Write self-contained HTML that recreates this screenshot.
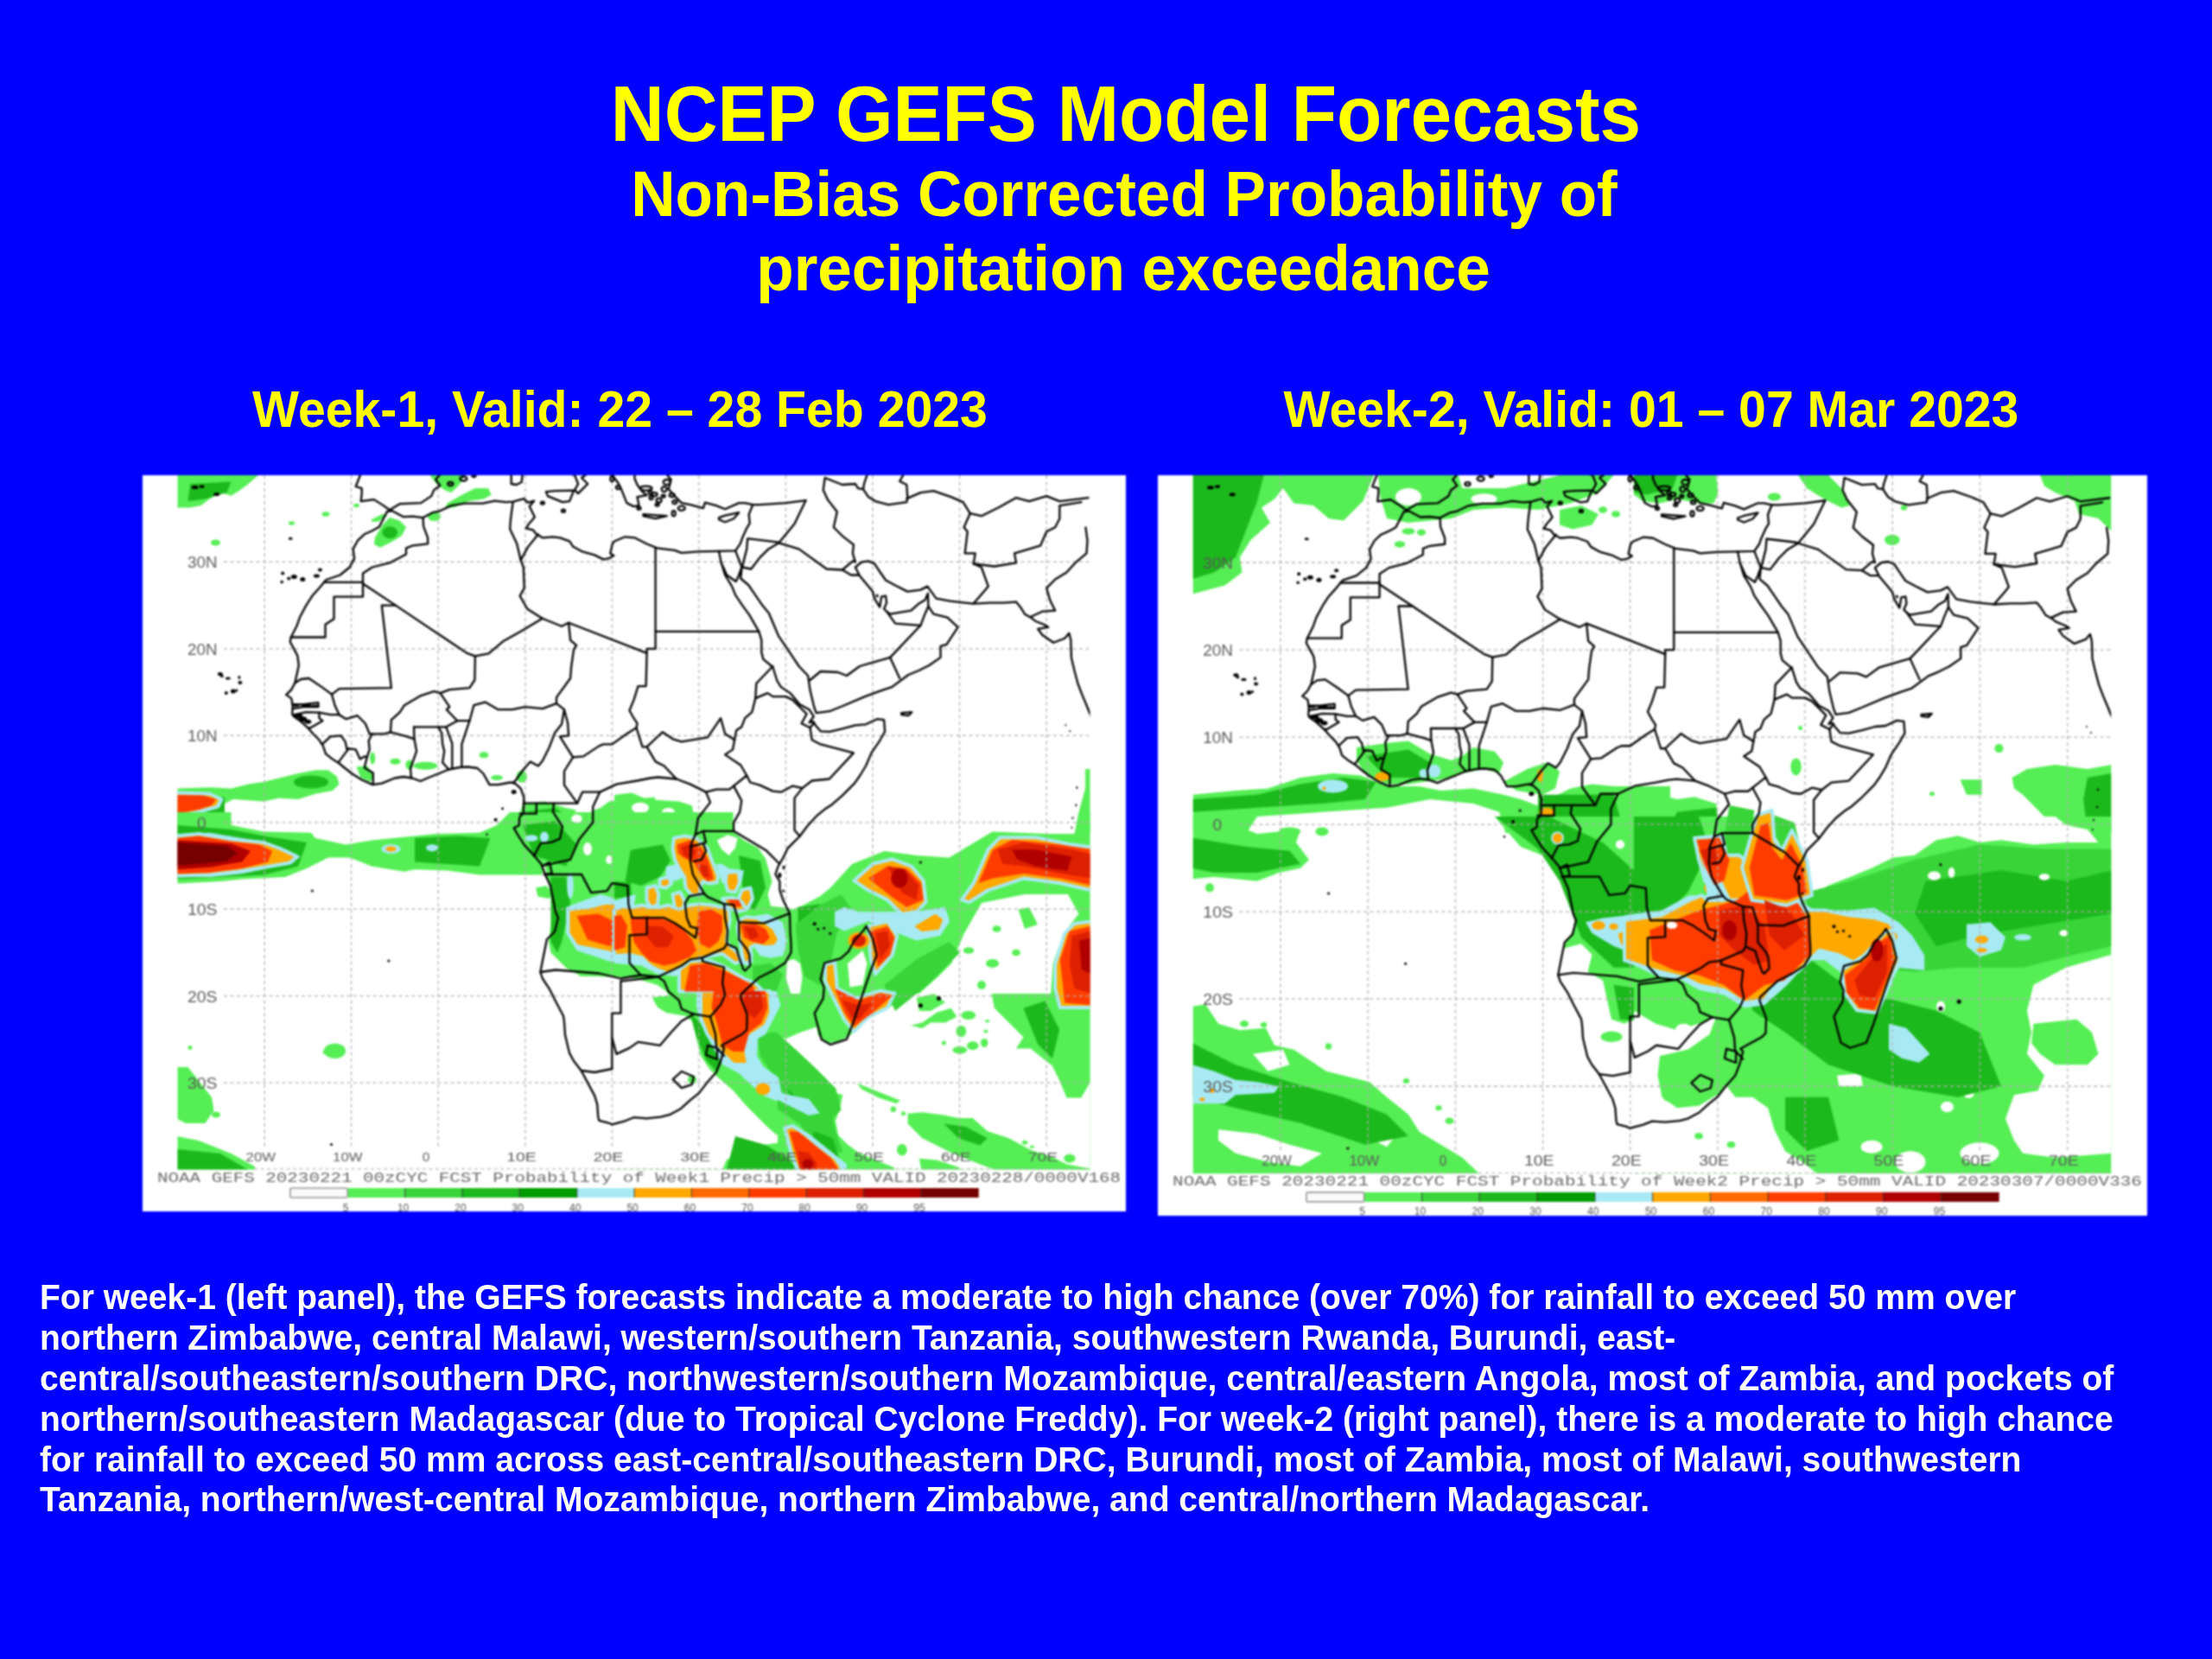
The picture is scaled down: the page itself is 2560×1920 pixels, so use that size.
<!DOCTYPE html>
<html><head><meta charset="utf-8">
<style>
html,body{margin:0;padding:0;}
body{width:2560px;height:1920px;background:#0000ff;position:relative;overflow:hidden;font-family:"Liberation Sans",sans-serif;font-weight:bold;}
.t{position:absolute;white-space:nowrap;line-height:1;transform-origin:0 0;}
.y{color:#ffff00;}
.w{color:#ffffff;}
</style></head><body>
<svg width="0" height="0" style="position:absolute">
<defs>
<clipPath id="plotclip"><rect x="40.5" y="0" width="1056.0" height="803.5"/></clipPath>
<g id="grid" stroke="#b0b0b0" stroke-width="1.3" stroke-dasharray="4 3.5" fill="none"><line x1="141.1" y1="0.0" x2="141.1" y2="779.0"/>
<line x1="241.6" y1="0.0" x2="241.6" y2="779.0"/>
<line x1="342.2" y1="0.0" x2="342.2" y2="779.0"/>
<line x1="442.8" y1="0.0" x2="442.8" y2="779.0"/>
<line x1="543.3" y1="0.0" x2="543.3" y2="779.0"/>
<line x1="643.9" y1="0.0" x2="643.9" y2="779.0"/>
<line x1="744.5" y1="0.0" x2="744.5" y2="779.0"/>
<line x1="845.0" y1="0.0" x2="845.0" y2="779.0"/>
<line x1="945.6" y1="0.0" x2="945.6" y2="779.0"/>
<line x1="1046.2" y1="0.0" x2="1046.2" y2="779.0"/>
<line x1="94.0" y1="703.1" x2="1096.5" y2="703.1"/>
<line x1="94.0" y1="602.6" x2="1096.5" y2="602.6"/>
<line x1="94.0" y1="502.2" x2="1096.5" y2="502.2"/>
<line x1="94.0" y1="401.8" x2="1096.5" y2="401.8"/>
<line x1="94.0" y1="301.3" x2="1096.5" y2="301.3"/>
<line x1="94.0" y1="200.9" x2="1096.5" y2="200.9"/>
<line x1="94.0" y1="100.4" x2="1096.5" y2="100.4"/>
<line x1="129" y1="803" x2="1096.5" y2="803"/></g>
<g id="borders" stroke="#000" stroke-width="2.3" fill="none" stroke-linejoin="round" stroke-linecap="round"><path d="M282.9 42.2 L278.8 50.2 L273.8 59.8 L265.8 64.3 L256.7 68.3 L249.2 75.3 L243.6 85.4 L245.1 96.4 L239.6 106.5 L228.6 115.5 L212.5 121.0 L205.4 129.6 L196.4 139.6 L189.3 150.6 L182.3 163.7 L178.3 174.8 L171.7 187.8 L170.7 192.8 L177.3 204.9 L179.3 208.9 L180.8 220.0 L176.3 240.5 L172.2 248.1 L166.2 254.1 L172.2 258.1 L173.7 266.2 L173.2 276.2 L175.3 279.2 L182.3 284.2 L191.3 292.3 L197.4 299.3 L204.4 306.3 L208.9 313.4 L212.0 322.4 L219.5 328.4 L227.6 333.5 L233.6 338.5 L242.6 345.5 L253.7 352.5 L266.3 358.1 L276.8 356.6 L291.9 350.5 L302.0 349.0 L312.0 350.5 L321.6 354.0 L332.1 349.5 L342.2 345.5 L354.3 340.5 L367.3 338.0 L376.4 337.5 L387.5 339.0 L394.5 345.5 L401.5 358.1 L411.6 358.1 L425.7 355.5 L431.7 357.1 L437.7 362.6 L441.3 372.6 L440.8 391.2 L436.2 395.7 L435.7 405.3 L429.7 408.3 L434.7 416.8 L441.8 427.9 L453.8 440.9 L461.4 450.0 L465.9 462.0 L471.9 475.1 L475.0 490.1 L478.0 505.2 L481.0 512.2 L477.0 528.3 L467.9 537.3 L464.4 554.4 L460.4 575.0 L462.9 582.5 L470.9 594.6 L478.0 608.7 L487.0 625.7 L488.0 632.8 L489.0 647.8 L494.1 668.9 L499.1 678.0 L507.6 689.0 L515.2 703.1 L523.2 718.1 L526.2 728.2 L527.2 742.2 L528.3 746.8 L538.3 749.3 L543.3 751.3 L558.4 747.3 L568.5 743.2 L583.6 744.3 L599.7 742.7 L609.7 740.2 L622.8 733.2 L633.9 723.2 L643.9 715.1 L654.0 702.1 L664.0 691.0 L669.1 678.0 L673.1 662.9 L670.1 659.9 L679.1 654.9 L694.2 646.8 L699.2 641.8 L699.7 624.7 L697.2 617.7 L692.2 604.6 L692.7 600.6 L702.2 591.6 L713.3 581.5 L729.4 573.5 L743.5 564.5 L750.5 552.4 L750.5 542.4 L749.5 527.3 L749.0 507.2 L741.5 492.1 L737.4 480.1 L737.4 470.0 L732.4 462.0 L735.4 453.0 L741.5 442.4 L746.5 431.9 L753.5 424.9 L760.6 417.8 L769.6 405.8 L779.7 394.7 L790.7 385.7 L797.8 381.2 L809.9 370.6 L823.9 356.6 L830.0 348.0 L837.0 336.5 L843.5 321.4 L853.1 307.3 L859.1 296.8 L858.1 283.2 L850.1 282.2 L837.0 288.3 L824.9 289.3 L809.9 293.3 L794.8 296.8 L784.7 296.3 L778.7 289.3 L776.2 285.2 L771.6 286.2 L776.7 279.2 L771.6 271.2 L760.6 265.2 L749.5 252.1 L738.9 245.1 L734.4 238.0 L729.4 222.0 L718.3 212.9 L716.3 204.9 L716.3 190.8 L713.3 180.8 L702.2 161.7 L694.2 150.6 L686.1 138.6 L682.1 128.6 L674.1 115.5 L669.6 100.9 L676.1 115.5 L686.7 123.0 L690.2 115.5 L693.7 105.5 L692.2 119.5 L701.2 127.0 L708.8 138.1 L717.3 150.6 L724.9 159.7 L735.9 185.8 L749.5 205.9 L759.6 221.0 L770.1 232.0 L772.6 249.1 L777.2 268.2 L779.7 275.2 L794.8 273.2 L809.9 267.2 L836.0 256.1 L855.1 249.1 L867.2 245.1 L886.3 231.0 L898.4 226.0 L910.4 220.0 L923.5 210.9 L923.5 197.9 L930.5 195.8 L943.6 175.8 L931.5 164.7 L915.4 160.7 L909.4 151.7 L908.9 136.6 L905.4 144.6 L898.4 148.6 L889.3 156.7 L865.2 160.7 L861.1 157.7 L858.1 154.7 L861.1 147.6 L860.1 139.6 L855.1 140.6 L853.1 152.7 L847.1 142.6 L845.0 134.6 L840.0 128.6 L830.0 116.5 L824.9 106.5 L831.0 101.4 L833.0 100.4 L840.0 99.4 L847.1 102.4 L853.1 111.5 L860.1 121.5 L871.2 127.5 L885.3 134.6 L900.4 132.6 L908.4 128.6 L918.5 142.6 L934.6 145.6 L951.7 147.6 L961.7 148.6 L980.8 147.6 L995.9 147.6 L1011.0 146.6 L1016.0 152.7 L1021.0 160.7 L1028.1 164.7 L1033.1 168.7 L1043.2 172.7 L1048.2 175.8 L1036.1 177.8 L1041.2 184.8 L1054.2 193.8 L1067.3 188.8 L1072.3 182.8 L1074.3 190.8 L1074.9 210.9 L1078.4 226.0 L1082.4 241.0 L1087.4 254.1 L1092.5 266.2 L1098.5 281.2"/>
<path d="M667.0 87.9 L669.6 100.9"/>
<path d="M667.0 87.9 L642.9 88.4 L623.8 89.9 L615.8 86.9 L595.6 84.4 L583.1 79.3 L569.5 72.3 L558.4 71.3 L546.4 76.3 L543.8 79.3 L541.3 90.4 L545.4 92.9 L539.3 96.4 L533.3 97.4 L523.2 92.4 L509.1 88.4 L498.1 82.4 L494.1 76.3 L483.0 72.3 L475.0 71.3 L462.9 72.3 L455.8 68.3 L451.8 63.3 L443.8 61.3 L447.8 55.2 L450.3 52.7 L453.8 48.2 L450.8 42.2 L447.8 36.1 L453.3 29.6 L445.8 31.6 L441.3 27.1 L428.7 30.6 L420.1 31.1 L407.6 29.6 L393.5 32.6 L372.9 32.6 L357.3 35.1 L343.2 41.7 L335.7 43.2 L324.1 49.2 L313.0 47.7 L302.0 48.2 L288.9 41.2 L282.9 42.2"/>
<path d="M667.0 87.9 L686.1 87.4 L691.7 79.3 L694.2 72.3 L699.2 61.3 L702.7 55.7 L701.7 45.2 L706.3 34.1 L697.2 32.1 L690.2 32.1 L674.1 39.2 L664.0 35.1 L650.9 31.6 L648.9 38.2 L633.9 34.1 L623.8 32.1 L616.8 25.1 L608.7 16.1 L611.7 5.0 L605.7 -2.0"/>
<path d="M252.7 -2.0 L246.7 13.0 L253.7 15.1 L253.7 21.1 L252.7 30.1 L267.8 28.1 L278.8 35.1 L285.9 40.2 L297.9 33.1 L322.1 32.1 L334.2 24.1 L337.2 17.1 L344.2 12.0 L339.2 5.0 L345.2 -2.0"/>
<path d="M426.7 -2.0 L426.7 10.0 L432.7 11.0 L438.7 8.0 L439.8 -2.0"/>
<path d="M466.9 19.1 L477.0 18.1 L499.1 17.6 L494.1 30.1 L486.0 31.1 L468.9 24.1 L466.9 19.1"/>
<path d="M493.1 -2.0 L500.1 -0.0 L504.1 10.0 L500.1 17.1 L504.1 21.1 L509.1 16.1 L515.2 10.0 L508.1 3.0 L515.2 -2.0"/>
<path d="M542.3 -2.0 L550.4 9.0 L554.4 17.1 L560.4 32.1 L568.5 36.1 L574.5 35.1 L572.5 25.1 L583.6 23.1 L578.5 19.1 L572.5 11.0 L569.5 4.0 L569.5 -2.0"/>
<path d="M579.5 45.2 L606.7 47.2 L593.6 50.2 L579.5 47.2 L579.5 45.2"/>
<path d="M667.0 51.2 L674.1 54.2 L684.1 50.2 L690.2 43.2 L674.1 46.7 L667.0 49.2 L667.0 51.2"/>
<path d="M839.0 -2.0 L835.0 10.0 L834.0 16.1 L840.0 25.1 L848.1 30.1 L863.2 34.1 L884.3 31.1 L885.3 26.1 L884.3 11.0 L876.2 7.0 L881.3 -2.0"/>
<path d="M837.5 521.8 L845.0 536.3 L849.6 555.4 L843.5 571.5 L839.0 584.0 L828.5 615.2 L823.4 630.8 L814.9 652.9 L796.3 658.9 L785.7 652.9 L781.2 636.3 L777.7 622.7 L787.7 605.6 L788.7 592.6 L784.7 583.0 L789.2 564.5 L807.8 559.4 L816.9 551.4 L823.9 538.3 L834.0 527.3 L837.5 521.8"/>
<path d="M878.2 275.2 L890.3 274.2 L886.3 278.2 L878.2 277.2 L878.2 275.2"/>
<path d="M324.6 49.2 L325.1 59.2 L330.1 72.3 L330.1 79.3 L313.0 81.3 L305.0 84.4 L305.0 91.4 L285.9 101.4 L265.8 106.5 L255.0 113.5 L255.0 123.8"/>
<path d="M209.7 123.8 L255.0 123.8 L255.0 140.6 L221.5 140.6 L221.5 166.2 L211.5 172.7 L211.5 187.5 L171.7 187.5"/>
<path d="M255.0 125.5 L292.9 150.6 L354.3 191.8 L375.4 205.9 L384.9 209.4"/>
<path d="M292.9 150.6 L276.8 150.6 L287.9 246.1 L227.6 247.1 L219.0 253.6"/>
<path d="M176.3 240.5 L183.3 236.0 L192.4 235.0 L207.4 245.1 L219.0 253.6"/>
<path d="M219.0 253.6 L222.5 266.2 L227.6 277.2"/>
<path d="M173.7 277.7 L189.3 274.2 L204.4 274.7 L217.5 277.2 L227.6 277.2"/>
<path d="M173.2 265.2 L186.3 265.2 L203.4 263.1 L203.4 268.2 L186.3 268.2 L174.2 270.2"/>
<path d="M204.4 274.7 L204.4 281.2 L208.4 284.2 L194.4 292.3 L191.3 292.3"/>
<path d="M208.4 310.9 L217.5 302.3 L229.6 301.4 L234.6 308.3 L236.6 317.4 L238.6 316.4"/>
<path d="M226.5 332.4 L238.6 316.4"/>
<path d="M238.6 316.4 L246.7 317.4 L251.7 328.4 L256.7 325.4 L259.7 326.4"/>
<path d="M259.7 326.4 L256.7 338.5 L266.8 344.5 L266.8 357.6"/>
<path d="M259.7 326.4 L262.7 317.4 L261.7 307.3 L265.8 299.3"/>
<path d="M227.6 277.2 L235.6 282.2 L248.7 278.2 L257.7 287.2 L262.7 299.3 L265.8 299.3"/>
<path d="M265.8 299.3 L279.8 299.3 L286.9 297.3"/>
<path d="M286.9 297.3 L287.9 283.2 L297.9 274.2 L303.0 266.2 L322.1 255.1 L337.2 250.1 L344.5 252.1"/>
<path d="M286.9 297.3 L306.0 302.3 L314.5 305.3"/>
<path d="M314.0 291.3 L314.5 305.3 L317.1 319.4 L310.0 339.5 L311.0 350.5"/>
<path d="M314.0 291.3 L342.2 291.3"/>
<path d="M342.2 291.3 L346.2 298.3 L347.2 311.4 L349.2 319.4 L347.2 332.4 L354.3 340.5"/>
<path d="M342.2 291.3 L351.3 291.3"/>
<path d="M351.3 291.3 L358.3 310.3 L358.3 339.5"/>
<path d="M351.3 291.3 L364.3 284.2 L378.4 284.2"/>
<path d="M378.4 284.2 L369.4 311.4 L369.4 338.0"/>
<path d="M344.5 252.1 L355.3 268.2 L351.8 271.2 L364.3 284.2"/>
<path d="M384.9 209.4 L384.4 237.0 L378.4 246.1 L355.3 248.1 L344.5 252.1"/>
<path d="M378.4 284.2 L383.4 266.2 L396.5 262.6 L411.6 271.2 L427.7 271.2 L442.8 268.2 L462.9 270.2 L479.0 264.1"/>
<path d="M384.9 209.4 L400.5 206.4 L417.1 192.3 L437.7 180.8 L462.7 165.7"/>
<path d="M462.7 165.7 L445.3 154.7 L436.7 139.6 L441.8 130.6 L440.8 106.5 L437.7 98.4 L433.2 79.3 L425.2 62.3 L425.7 54.2 L426.7 45.2 L428.7 31.1"/>
<path d="M437.7 98.4 L445.8 83.4 L457.9 68.3"/>
<path d="M462.7 165.7 L485.0 174.8 L493.1 170.7 L583.6 205.9 L583.6 200.9 L593.6 200.9 L593.6 180.8 L593.6 84.4"/>
<path d="M593.6 180.8 L713.3 180.8"/>
<path d="M493.1 170.7 L495.1 190.8 L502.1 196.9 L499.1 201.4 L496.1 222.0 L495.1 235.0 L479.0 257.1 L479.0 264.1"/>
<path d="M583.6 205.9 L582.6 244.1 L573.5 244.1 L568.5 260.1 L563.5 272.2 L568.5 281.2 L572.5 287.2 L571.5 292.3"/>
<path d="M498.1 326.4 L510.2 325.4 L528.3 313.4 L533.3 311.4 L543.3 311.4 L560.4 299.3 L571.5 292.3"/>
<path d="M479.0 264.1 L488.0 271.2 L492.0 286.2 L493.1 301.3 L483.0 302.3 L498.1 326.4"/>
<path d="M488.0 271.2 L485.0 288.3 L477.0 298.3 L470.9 314.4 L462.9 330.4 L457.9 336.5 L448.8 331.4 L440.8 340.5 L430.7 354.5 L427.7 355.5"/>
<path d="M498.1 326.4 L488.0 342.5 L488.0 358.6 L503.1 379.7"/>
<path d="M440.8 379.7 L455.8 379.7 L476.0 379.7 L503.1 379.7"/>
<path d="M455.8 379.7 L455.8 391.7 L436.7 391.7"/>
<path d="M476.0 379.7 L475.0 389.7 L486.0 406.8 L483.0 420.8 L472.9 424.9 L460.9 425.9 L452.8 440.9"/>
<path d="M503.1 379.7 L509.1 366.6 L529.3 366.6"/>
<path d="M529.3 366.6 L521.2 383.7 L521.2 401.8 L505.1 421.8 L495.1 444.9 L462.9 452.0"/>
<path d="M529.3 366.6 L548.4 357.6 L572.5 353.5 L587.6 350.5 L596.6 349.5 L617.8 351.5"/>
<path d="M617.8 351.5 L633.9 357.6 L652.0 366.6"/>
<path d="M652.0 366.6 L657.0 378.6 L642.9 396.7 L639.9 415.8 L634.9 426.9 L633.9 446.9 L636.9 462.0 L649.9 484.1"/>
<path d="M649.9 484.1 L632.8 487.1 L627.8 495.2 L629.8 512.2 L633.9 522.3 L641.9 524.3 L639.9 535.3 L627.8 526.3 L615.8 518.3 L603.7 512.2 L583.6 512.2 L583.6 531.3 L563.5 532.3"/>
<path d="M464.9 462.0 L508.1 462.0 L519.2 483.1 L537.3 481.1 L543.3 472.1 L561.4 475.1 L562.4 497.2 L566.5 512.2 L583.6 512.2"/>
<path d="M462.9 452.0 L470.9 448.0 L473.9 461.0 L464.9 462.0"/>
<path d="M563.5 532.3 L563.5 564.5 L576.5 578.5"/>
<path d="M460.4 575.0 L478.0 572.5 L528.3 576.5 L553.4 582.5 L576.5 578.5 L596.6 580.5"/>
<path d="M553.4 585.6 L596.6 580.5"/>
<path d="M553.4 585.6 L553.4 622.7 L543.3 622.7 L543.3 650.8 L543.3 687.0"/>
<path d="M507.6 689.0 L523.2 691.0 L538.3 688.0 L543.3 687.0"/>
<path d="M596.6 580.5 L613.7 572.5 L623.8 567.5 L633.9 560.4 L647.9 558.4"/>
<path d="M647.9 558.4 L673.1 547.4 L676.1 542.4 L677.1 527.3 L674.1 512.2 L673.1 496.2"/>
<path d="M673.1 496.2 L654.0 488.1 L649.9 484.1"/>
<path d="M647.9 558.4 L647.9 562.5 L673.1 569.5 L671.1 587.6 L674.1 601.6 L669.1 612.7 L657.0 626.7"/>
<path d="M596.6 580.5 L603.7 585.6 L608.7 597.6 L620.8 607.7 L623.8 617.7 L637.9 623.7"/>
<path d="M637.9 623.7 L657.0 626.7"/>
<path d="M543.3 650.8 L548.4 669.9 L563.5 662.9 L573.5 655.9 L598.7 659.9 L611.7 644.8 L623.8 631.8 L637.9 623.7"/>
<path d="M657.0 626.7 L663.0 646.8 L664.0 661.9 L673.1 671.9"/>
<path d="M654.0 659.9 L665.0 662.9 L665.0 676.0 L652.0 670.9 L654.0 659.9"/>
<path d="M613.7 699.1 L623.8 690.0 L637.9 696.0 L635.9 705.1 L623.8 709.1 L613.7 699.1"/>
<path d="M676.1 542.4 L687.2 547.4 L690.2 557.4 L695.2 571.5 L697.2 573.5 L703.2 567.5 L702.2 554.4 L699.2 548.4 L690.2 537.3 L690.2 517.3 L684.1 497.2 L673.1 496.2"/>
<path d="M690.2 517.3 L719.3 518.3 L749.0 507.2"/>
<path d="M736.4 449.0 L721.3 433.9 L684.1 411.8 L648.9 411.8"/>
<path d="M648.9 411.8 L652.0 424.9 L648.9 425.9 L652.0 434.9 L646.9 444.9 L637.9 446.9"/>
<path d="M633.9 429.9 L648.9 425.9"/>
<path d="M639.9 415.8 L648.9 411.8"/>
<path d="M684.1 411.8 L684.1 401.8 L691.2 389.7 L693.2 376.6 L684.1 359.6"/>
<path d="M652.0 366.6 L664.0 363.6 L679.1 363.6 L684.1 359.6"/>
<path d="M684.1 359.6 L699.2 347.5 L703.2 355.5 L714.3 358.6 L729.4 365.6 L739.5 366.6 L752.5 359.6 L763.6 362.1"/>
<path d="M763.6 362.1 L754.5 373.6 L754.5 410.8 L760.6 417.8"/>
<path d="M763.6 362.1 L774.7 353.5 L784.7 352.5 L794.8 351.5 L822.9 321.4 L784.7 311.4 L774.7 306.3 L772.6 292.3"/>
<path d="M772.6 292.3 L762.6 287.2 L768.6 276.2 L752.5 260.1 L744.5 256.1 L729.4 256.1 L723.4 252.1 L709.3 258.1"/>
<path d="M772.6 292.3 L777.2 286.2"/>
<path d="M709.3 258.1 L710.3 241.0 L729.4 221.0"/>
<path d="M709.3 258.1 L705.3 274.2 L697.2 281.2 L693.2 291.3 L687.2 295.3 L685.1 306.3"/>
<path d="M685.1 306.3 L683.1 317.4 L674.1 323.4 L692.2 335.5 L699.2 347.5"/>
<path d="M685.1 306.3 L674.1 299.3 L669.1 281.2 L654.0 303.3 L623.8 308.3 L613.7 305.3 L601.7 297.3 L583.6 314.4 L578.5 314.4 L571.5 292.3"/>
<path d="M617.8 351.5 L603.7 336.5 L593.6 331.4 L583.6 314.4"/>
<path d="M686.1 87.4 L693.2 105.5"/>
<path d="M694.2 105.5 L699.2 85.4 L700.2 73.3"/>
<path d="M694.2 106.5 L704.3 108.5 L714.3 95.4 L724.4 85.4 L736.4 78.3"/>
<path d="M736.4 78.3 L759.6 85.4 L791.7 108.5 L809.9 109.5 L819.9 115.5 L829.0 115.5"/>
<path d="M809.9 109.5 L821.9 99.4 L824.9 100.4"/>
<path d="M701.2 73.3 L734.4 77.3 L736.4 78.3"/>
<path d="M736.4 78.3 L754.5 56.2 L767.6 29.1"/>
<path d="M824.9 100.4 L821.9 90.4 L822.9 80.3 L809.9 70.3 L799.8 60.3 L803.8 42.2 L792.8 28.1"/>
<path d="M706.3 34.1 L714.3 34.1 L744.5 32.1 L767.6 29.1"/>
<path d="M772.6 237.0 L784.7 227.0 L804.8 228.0 L814.9 232.0 L830.0 221.0 L865.2 210.9"/>
<path d="M865.2 210.9 L876.2 235.0"/>
<path d="M865.2 210.9 L900.4 173.8"/>
<path d="M900.4 173.8 L871.2 171.7 L861.1 157.7"/>
<path d="M900.4 173.8 L905.4 160.7 L909.4 151.7"/>
<path d="M957.7 44.2 L950.6 60.3 L954.7 65.3 L951.7 90.4 L963.7 90.4 L961.7 102.4"/>
<path d="M961.7 102.4 L970.8 106.5 L978.8 128.6 L973.8 134.6 L961.7 148.6"/>
<path d="M884.3 27.1 L900.4 20.1 L915.4 18.1 L935.6 25.1 L949.6 31.1 L957.7 44.2"/>
<path d="M792.8 28.1 L787.7 17.1 L789.7 3.0 L809.9 11.0 L824.9 10.0 L828.0 15.1 L834.0 16.1"/>
<path d="M961.7 102.4 L985.8 105.5 L1011.0 101.4 L1009.0 90.4 L1026.1 85.4 L1039.2 81.3 L1046.2 65.3 L1056.2 60.3 L1061.3 50.2 L1061.3 35.1 L1086.4 31.1"/>
<path d="M957.7 44.2 L970.8 47.2 L990.9 37.2 L1011.0 26.1 L1026.1 30.1 L1046.2 24.1 L1061.3 30.1 L1094.5 26.1"/>
<path d="M1028.1 163.7 L1041.2 157.7 L1056.2 156.7 L1050.2 144.6 L1046.2 130.6 L1056.2 120.5 L1069.3 112.5 L1079.4 101.4 L1092.5 90.4 L1093.5 75.3 L1091.4 60.3"/>
<ellipse cx="597.6" cy="29.1" rx="3.0" ry="2.5"/>
<ellipse cx="592.6" cy="22.1" rx="3.0" ry="2.0"/>
<ellipse cx="603.7" cy="16.1" rx="3.0" ry="3.0"/>
<ellipse cx="606.7" cy="8.0" rx="4.0" ry="3.0"/>
<ellipse cx="615.8" cy="31.1" rx="2.5" ry="2.0"/>
<ellipse cx="623.8" cy="38.2" rx="4.0" ry="2.5"/>
<ellipse cx="582.6" cy="15.1" rx="7.0" ry="2.5"/>
<ellipse cx="595.6" cy="34.1" rx="2.0" ry="1.5"/>
<ellipse cx="588.6" cy="26.1" rx="2.0" ry="2.0"/>
<ellipse cx="612.7" cy="23.1" rx="3.0" ry="2.0"/>
<ellipse cx="602.7" cy="24.1" rx="2.0" ry="1.5"/>
<ellipse cx="587.6" cy="20.1" rx="2.0" ry="2.0"/>
<ellipse cx="614.7" cy="44.2" rx="2.0" ry="3.0"/>
<ellipse cx="574.5" cy="38.2" rx="2.0" ry="1.5"/>
<ellipse cx="550.4" cy="14.1" rx="2.5" ry="2.0"/>
<ellipse cx="543.3" cy="4.0" rx="2.0" ry="3.0"/>
<ellipse cx="462.9" cy="32.1" rx="2.0" ry="1.5"/>
<ellipse cx="487.0" cy="41.2" rx="2.0" ry="1.5"/>
<ellipse cx="356.3" cy="10.0" rx="3.0" ry="2.0"/>
<ellipse cx="371.4" cy="4.0" rx="4.0" ry="2.5"/>
<ellipse cx="383.4" cy="0.5" rx="2.0" ry="1.5"/>
<ellipse cx="179.3" cy="278.2" rx="6.0" ry="2.5" fill="#000" stroke="none"/>
<ellipse cx="185.3" cy="282.2" rx="5.0" ry="3.0" fill="#000" stroke="none"/>
<ellipse cx="191.3" cy="285.2" rx="4.0" ry="2.5" fill="#000" stroke="none"/>
<ellipse cx="177.3" cy="266.2" rx="4.0" ry="1.6" fill="#000" stroke="none"/>
<ellipse cx="189.3" cy="266.2" rx="6.0" ry="1.6" fill="#000" stroke="none"/>
<ellipse cx="199.4" cy="267.2" rx="5.0" ry="1.6" fill="#000" stroke="none"/>
<ellipse cx="175.3" cy="117.5" rx="3.5" ry="2.5" fill="#000" stroke="none"/>
<ellipse cx="185.3" cy="120.5" rx="3.0" ry="2.5" fill="#000" stroke="none"/>
<ellipse cx="201.4" cy="116.5" rx="3.5" ry="2.0" fill="#000" stroke="none"/>
<ellipse cx="205.4" cy="109.5" rx="2.5" ry="2.0" fill="#000" stroke="none"/>
<ellipse cx="162.2" cy="113.5" rx="2.0" ry="2.0" fill="#000" stroke="none"/>
<ellipse cx="169.2" cy="119.5" rx="2.0" ry="2.0" fill="#000" stroke="none"/>
<ellipse cx="161.2" cy="123.5" rx="1.8" ry="1.8" fill="#000" stroke="none"/>
<ellipse cx="89.8" cy="230.0" rx="3.0" ry="2.0" fill="#000" stroke="none"/>
<ellipse cx="91.8" cy="232.5" rx="2.0" ry="1.5" fill="#000" stroke="none"/>
<ellipse cx="98.8" cy="235.0" rx="3.0" ry="1.5" fill="#000" stroke="none"/>
<ellipse cx="111.9" cy="234.0" rx="1.5" ry="2.0" fill="#000" stroke="none"/>
<ellipse cx="112.9" cy="240.0" rx="2.5" ry="2.0" fill="#000" stroke="none"/>
<ellipse cx="104.9" cy="250.1" rx="3.0" ry="2.5" fill="#000" stroke="none"/>
<ellipse cx="96.8" cy="252.1" rx="2.0" ry="2.0" fill="#000" stroke="none"/>
<ellipse cx="108.9" cy="249.1" rx="1.5" ry="1.5" fill="#000" stroke="none"/>
<ellipse cx="171.2" cy="73.3" rx="2.5" ry="1.5" fill="#000" stroke="none"/>
<ellipse cx="60.6" cy="14.1" rx="4.0" ry="2.0" fill="#000" stroke="none"/>
<ellipse cx="85.7" cy="22.1" rx="3.5" ry="2.0" fill="#000" stroke="none"/>
<ellipse cx="68.6" cy="13.0" rx="3.0" ry="1.8" fill="#000" stroke="none"/>
<ellipse cx="28.4" cy="6.0" rx="2.0" ry="2.0" fill="#000" stroke="none"/>
<ellipse cx="408.6" cy="398.7" rx="2.0" ry="2.0" fill="#000" stroke="none"/>
<ellipse cx="416.6" cy="385.7" rx="1.5" ry="1.5" fill="#000" stroke="none"/>
<ellipse cx="429.7" cy="366.6" rx="3.0" ry="2.5" fill="#000" stroke="none"/>
<ellipse cx="398.5" cy="415.8" rx="1.2" ry="1.2" fill="#000" stroke="none"/>
<ellipse cx="777.7" cy="519.3" rx="2.0" ry="2.0" fill="#000" stroke="none"/>
<ellipse cx="788.7" cy="524.3" rx="1.5" ry="1.5" fill="#000" stroke="none"/>
<ellipse cx="781.7" cy="525.3" rx="1.5" ry="1.5" fill="#000" stroke="none"/>
<ellipse cx="795.8" cy="530.3" rx="1.5" ry="1.5" fill="#000" stroke="none"/>
<ellipse cx="921.5" cy="605.6" rx="2.5" ry="2.5" fill="#000" stroke="none"/>
<ellipse cx="900.4" cy="613.7" rx="2.5" ry="2.5" fill="#000" stroke="none"/>
<ellipse cx="900.4" cy="448.0" rx="1.5" ry="1.5" fill="#000" stroke="none"/>
<ellipse cx="737.4" cy="463.0" rx="2.0" ry="3.0" fill="#000" stroke="none"/>
<ellipse cx="742.0" cy="454.0" rx="1.5" ry="2.5" fill="#000" stroke="none"/>
<ellipse cx="741.5" cy="481.1" rx="1.5" ry="1.5" fill="#000" stroke="none"/>
<ellipse cx="1081.4" cy="361.6" rx="1.0" ry="1.5" fill="#000" stroke="none"/>
<ellipse cx="1080.4" cy="381.7" rx="1.0" ry="1.5" fill="#000" stroke="none"/>
<ellipse cx="1076.4" cy="396.7" rx="1.0" ry="1.2" fill="#000" stroke="none"/>
<ellipse cx="1075.4" cy="407.8" rx="1.0" ry="1.0" fill="#000" stroke="none"/>
<ellipse cx="1073.3" cy="296.3" rx="1.0" ry="1.0" fill="#000" stroke="none"/>
<ellipse cx="1068.3" cy="289.3" rx="1.0" ry="1.0" fill="#000" stroke="none"/>
<ellipse cx="850.1" cy="139.6" rx="1.5" ry="2.0" fill="#000" stroke="none"/>
<ellipse cx="196.4" cy="481.1" rx="1.5" ry="1.5" fill="#000" stroke="none"/>
<ellipse cx="284.9" cy="562.0" rx="1.5" ry="1.5" fill="#000" stroke="none"/>
<ellipse cx="218.5" cy="774.4" rx="1.5" ry="1.5" fill="#000" stroke="none"/>
<ellipse cx="242.6" cy="806.5" rx="1.5" ry="1.5" fill="#000" stroke="none"/></g>
<g id="labels" font-family="Liberation Sans" font-weight="normal" fill="#5a5a5a"><text x="52" y="107.4" font-size="19" textLength="34.5" lengthAdjust="spacingAndGlyphs">30N</text>
<text x="52" y="207.9" font-size="19" textLength="34.5" lengthAdjust="spacingAndGlyphs">20N</text>
<text x="52" y="308.3" font-size="19" textLength="34.5" lengthAdjust="spacingAndGlyphs">10N</text>
<text x="63" y="408.8" font-size="19">0</text>
<text x="52" y="509.2" font-size="19" textLength="34.5" lengthAdjust="spacingAndGlyphs">10S</text>
<text x="52" y="609.6" font-size="19" textLength="34.5" lengthAdjust="spacingAndGlyphs">20S</text>
<text x="52" y="710.1" font-size="19" textLength="34.5" lengthAdjust="spacingAndGlyphs">30S</text>
<text x="119.6" y="794" font-size="15.5" textLength="34.5" lengthAdjust="spacingAndGlyphs">20W</text>
<text x="220.1" y="794" font-size="15.5" textLength="34.5" lengthAdjust="spacingAndGlyphs">10W</text>
<text x="323.7" y="794" font-size="15.5">0</text>
<text x="421.3" y="794" font-size="15.5" textLength="34.5" lengthAdjust="spacingAndGlyphs">10E</text>
<text x="521.8" y="794" font-size="15.5" textLength="34.5" lengthAdjust="spacingAndGlyphs">20E</text>
<text x="622.4" y="794" font-size="15.5" textLength="34.5" lengthAdjust="spacingAndGlyphs">30E</text>
<text x="723.0" y="794" font-size="15.5" textLength="34.5" lengthAdjust="spacingAndGlyphs">40E</text>
<text x="823.5" y="794" font-size="15.5" textLength="34.5" lengthAdjust="spacingAndGlyphs">50E</text>
<text x="924.1" y="794" font-size="15.5" textLength="34.5" lengthAdjust="spacingAndGlyphs">60E</text>
<text x="1024.7" y="794" font-size="15.5" textLength="34.5" lengthAdjust="spacingAndGlyphs">70E</text></g>
<g id="cbar" font-family="Liberation Sans" font-weight="normal"><rect x="170.8" y="825" width="66.7" height="11" fill="#fafafa"/>
<rect x="237.2" y="825" width="66.7" height="11" fill="#55ee55"/>
<rect x="303.6" y="825" width="66.7" height="11" fill="#38d438"/>
<rect x="369.9" y="825" width="66.7" height="11" fill="#1cb91c"/>
<rect x="436.3" y="825" width="66.7" height="11" fill="#009c00"/>
<rect x="502.7" y="825" width="66.7" height="11" fill="#a8eaf4"/>
<rect x="569.1" y="825" width="66.7" height="11" fill="#ffa800"/>
<rect x="635.5" y="825" width="66.7" height="11" fill="#ff6a00"/>
<rect x="701.9" y="825" width="66.7" height="11" fill="#ff3c00"/>
<rect x="768.2" y="825" width="66.7" height="11" fill="#dc2000"/>
<rect x="834.6" y="825" width="66.7" height="11" fill="#b00000"/>
<rect x="901.0" y="825" width="66.7" height="11" fill="#760000"/>
<line x1="303.6" y1="825" x2="303.6" y2="836" stroke="#333" stroke-width="1.3" opacity="0.7"/>
<line x1="369.9" y1="825" x2="369.9" y2="836" stroke="#333" stroke-width="1.3" opacity="0.7"/>
<line x1="436.3" y1="825" x2="436.3" y2="836" stroke="#333" stroke-width="1.3" opacity="0.7"/>
<line x1="502.7" y1="825" x2="502.7" y2="836" stroke="#333" stroke-width="1.3" opacity="0.7"/>
<line x1="569.1" y1="825" x2="569.1" y2="836" stroke="#333" stroke-width="1.3" opacity="0.7"/>
<line x1="635.5" y1="825" x2="635.5" y2="836" stroke="#333" stroke-width="1.3" opacity="0.7"/>
<line x1="701.9" y1="825" x2="701.9" y2="836" stroke="#333" stroke-width="1.3" opacity="0.7"/>
<line x1="768.2" y1="825" x2="768.2" y2="836" stroke="#333" stroke-width="1.3" opacity="0.7"/>
<line x1="834.6" y1="825" x2="834.6" y2="836" stroke="#333" stroke-width="1.3" opacity="0.7"/>
<line x1="901.0" y1="825" x2="901.0" y2="836" stroke="#333" stroke-width="1.3" opacity="0.7"/>
<rect x="170.8" y="825" width="66.4" height="11" rx="2" fill="none" stroke="#999" stroke-width="1.6"/>
<text x="235.2" y="851.5" text-anchor="middle" font-size="12" fill="#555">5</text>
<text x="301.6" y="851.5" text-anchor="middle" font-size="12" fill="#555">10</text>
<text x="367.9" y="851.5" text-anchor="middle" font-size="12" fill="#555">20</text>
<text x="434.3" y="851.5" text-anchor="middle" font-size="12" fill="#555">30</text>
<text x="500.7" y="851.5" text-anchor="middle" font-size="12" fill="#555">40</text>
<text x="567.1" y="851.5" text-anchor="middle" font-size="12" fill="#555">50</text>
<text x="633.5" y="851.5" text-anchor="middle" font-size="12" fill="#555">60</text>
<text x="699.9" y="851.5" text-anchor="middle" font-size="12" fill="#555">70</text>
<text x="766.2" y="851.5" text-anchor="middle" font-size="12" fill="#555">80</text>
<text x="832.6" y="851.5" text-anchor="middle" font-size="12" fill="#555">90</text>
<text x="899.0" y="851.5" text-anchor="middle" font-size="12" fill="#555">95</text></g>
</defs></svg>
<div class="t y" style="left:0;width:2606px;text-align:center;top:87px;font-size:85.6px;transform:scaleY(1.055);">NCEP GEFS Model Forecasts</div>
<div class="t y" style="left:0;width:2602px;text-align:center;top:186.5px;font-size:71.1px;transform:scaleY(1.055);">Non-Bias Corrected Probability of</div>
<div class="t y" style="left:0;width:2600px;text-align:center;top:273px;font-size:71.1px;transform:scaleY(1.055);">precipitation exceedance</div>
<div class="t y" style="left:292px;top:443.5px;font-size:57.2px;transform:scaleY(1.05);">Week-1, Valid: 22 &#8211; 28 Feb 2023</div>
<div class="t y" style="left:1485.5px;top:443.5px;font-size:57.2px;transform:scaleY(1.05);">Week-2, Valid: 01 &#8211; 07 Mar 2023</div>
<svg style="position:absolute;left:165px;top:550px;filter:blur(0.9px)" width="1138" height="852" viewBox="0 0 1138 852" preserveAspectRatio="none">
<rect width="1138" height="852" fill="#fff"/>
<g clip-path="url(#plotclip)">
<g><path d="M40.0,0.0 133.8,0.0 122.5,10.0 112.5,17.5 102.5,23.8 90.0,20.0 77.5,27.5 67.5,35.0 55.0,37.5 40.0,37.5Z" fill="#55ee55"/>
<ellipse cx="247.5" cy="35.0" rx="3.5" ry="2.2" fill="#55ee55"/>
<ellipse cx="212.0" cy="45.0" rx="4.5" ry="2.8" fill="#55ee55"/>
<ellipse cx="172.5" cy="55.5" rx="3.5" ry="2.2" fill="#55ee55"/>
<ellipse cx="84.5" cy="78.0" rx="5.5" ry="3.5" fill="#55ee55"/>
<path d="M268.8,72.5 277.5,57.5 286.2,48.8 297.5,52.5 305.0,60.0 300.0,70.0 287.5,77.5 275.0,83.8 268.0,80.0Z" fill="#55ee55"/>
<path d="M265.0,51.2 277.5,45.0 283.8,46.2 272.5,53.8 265.0,53.8Z" fill="#55ee55"/>
<path d="M332.5,0.0 372.5,0.0 367.5,10.0 357.5,20.0 350.0,17.5 340.0,10.0Z" fill="#55ee55"/>
<path d="M352.5,32.5 370.0,22.5 385.0,15.0 400.0,15.0 403.8,22.5 395.0,27.5 377.5,30.0 360.0,37.5 350.0,37.5Z" fill="#55ee55"/>
<ellipse cx="337.5" cy="47.5" rx="7.5" ry="5.5" fill="#55ee55"/>
<path d="M247.5,337.5 260.0,336.2 267.5,347.5 263.8,355.0 252.5,350.0Z" fill="#55ee55"/>
<ellipse cx="266.2" cy="327.5" rx="3.0" ry="7.0" fill="#55ee55"/>
<ellipse cx="292.5" cy="331.2" rx="6.2" ry="3.5" fill="#55ee55"/>
<ellipse cx="308.8" cy="335.0" rx="4.5" ry="5.5" fill="#55ee55"/>
<ellipse cx="327.5" cy="336.2" rx="13.8" ry="4.5" fill="#55ee55"/>
<ellipse cx="395.0" cy="323.8" rx="5.5" ry="3.5" fill="#55ee55"/>
<ellipse cx="410.0" cy="350.0" rx="7.0" ry="3.0" fill="#55ee55"/>
<ellipse cx="438.8" cy="348.8" rx="6.2" ry="7.0" fill="#55ee55"/>
<path d="M40.0,362.5 77.5,361.2 102.5,362.5 122.5,357.5 140.0,355.0 160.0,350.0 180.0,345.0 200.0,341.2 215.0,341.2 225.0,348.8 227.5,357.5 220.0,365.0 200.0,368.8 180.0,375.0 157.5,373.8 140.0,377.5 122.5,376.2 105.0,375.0 95.0,380.0 95.0,392.5 100.0,405.0 115.0,414.0 40.0,414.0Z" fill="#55ee55"/>
<path d="M430.0,414.0 440.0,380.0 465.0,377.5 490.0,385.0 515.0,390.0 530.0,385.0 540.0,377.5 593.0,372.5 593.0,414.0Z" fill="#55ee55"/>
<ellipse cx="510.0" cy="393.8" rx="11.2" ry="8.8" fill="#ffffff"/>
<path d="M55.0,10.0 102.5,7.5 97.5,20.0 72.5,27.5 52.5,30.0Z" fill="#1cb91c"/>
<ellipse cx="286.2" cy="66.2" rx="8.8" ry="7.0" fill="#1cb91c"/>
<ellipse cx="195.0" cy="355.0" rx="20.0" ry="7.5" fill="#1cb91c"/>
<path d="M40.0,375.0 95.0,372.5 95.0,400.0 40.0,405.0Z" fill="#1cb91c"/>
<path d="M440.0,390.0 477.5,385.0 502.5,400.0 502.5,414.0 435.0,414.0Z" fill="#1cb91c"/>
<path d="M40.0,366.2 77.5,367.5 93.8,375.0 88.8,385.0 65.0,391.2 40.0,396.2Z" fill="#a8eaf4"/>
<path d="M40.0,367.5 77.5,368.8 91.2,375.0 86.2,383.8 65.0,389.5 40.0,394.5Z" fill="#ffa800" stroke="#a8eaf4" stroke-width="4" stroke-linejoin="round"/>
<path d="M40.0,370.0 70.0,370.5 85.0,375.0 80.0,382.0 65.0,387.0 40.0,391.2Z" fill="#ff3c00"/>
<path d="M546.0,370.0 566.0,367.5 583.5,375.0 621.0,377.5 636.0,382.5 641.0,414.0 546.0,414.0Z" fill="#55ee55"/>
<path d="M643.5,405.0 658.5,400.0 676.0,397.5 681.0,414.0 643.5,414.0Z" fill="#55ee55"/>
<path d="M1091.0,340.0 1099.0,340.0 1099.0,414.0 1076.0,414.0 1083.5,390.0 1091.0,362.5Z" fill="#55ee55"/>
<path d="M981.0,410.0 1046.0,407.5 1099.0,405.0 1099.0,414.0 981.0,414.0Z" fill="#55ee55"/>
<ellipse cx="576.0" cy="385.0" rx="10.0" ry="6.2" fill="#ffffff"/>
<ellipse cx="608.5" cy="390.0" rx="7.5" ry="5.0" fill="#ffffff"/>
<ellipse cx="583.5" cy="405.0" rx="6.2" ry="4.5" fill="#ffffff"/>
<path d="M40.0,390.0 102.5,390.0 102.5,405.0 140.0,412.5 195.0,413.8 200.0,420.0 235.0,427.5 265.0,422.5 302.5,418.8 340.0,415.0 390.0,413.8 410.0,405.0 425.0,390.0 440.0,390.0 452.5,415.0 465.0,447.5 462.5,462.5 440.0,462.5 390.0,462.5 352.5,457.5 315.0,456.2 302.5,458.8 265.0,452.5 240.0,442.5 215.0,442.5 190.0,455.0 165.0,465.0 115.0,467.5 90.0,470.0 40.0,472.5Z" fill="#55ee55"/>
<path d="M455.0,477.5 467.5,475.0 475.0,485.0 470.0,490.0 457.5,487.5Z" fill="#55ee55"/>
<path d="M425.0,390.0 593.0,390.0 593.0,585.0 585.0,587.5 565.0,582.5 527.5,580.0 507.5,580.0 490.0,570.0 472.5,552.5 470.0,540.0 475.0,502.5 470.0,472.5 465.0,447.5 452.5,415.0Z" fill="#55ee55"/>
<ellipse cx="502.5" cy="397.5" rx="6.2" ry="5.0" fill="#ffffff"/>
<ellipse cx="515.0" cy="432.5" rx="5.0" ry="7.5" fill="#ffffff"/>
<ellipse cx="540.0" cy="445.0" rx="3.8" ry="5.0" fill="#ffffff"/>
<ellipse cx="577.5" cy="405.0" rx="7.5" ry="5.0" fill="#ffffff"/>
<ellipse cx="565.0" cy="437.5" rx="3.8" ry="3.8" fill="#ffffff"/>
<path d="M40.0,685.0 52.5,685.0 80.0,720.0 82.5,735.0 72.5,750.0 50.0,750.0 40.0,745.0Z" fill="#55ee55"/>
<ellipse cx="85.0" cy="740.0" rx="5.0" ry="3.5" fill="#55ee55"/>
<path d="M40.0,765.0 65.0,770.0 102.5,785.0 130.0,800.0 130.0,804.0 40.0,804.0Z" fill="#55ee55"/>
<ellipse cx="222.5" cy="666.2" rx="12.5" ry="8.8" fill="#55ee55"/>
<ellipse cx="212.5" cy="667.5" rx="3.8" ry="3.0" fill="#55ee55"/>
<ellipse cx="55.0" cy="662.5" rx="2.5" ry="2.5" fill="#55ee55"/>
<ellipse cx="50.0" cy="687.5" rx="3.0" ry="2.5" fill="#55ee55"/>
<ellipse cx="50.0" cy="706.2" rx="6.2" ry="5.0" fill="#55ee55"/>
<path d="M40.0,405.0 102.5,410.0 140.0,417.5 190.0,425.0 180.0,452.5 140.0,462.5 90.0,465.0 40.0,467.5Z" fill="#1cb91c"/>
<path d="M315.0,420.0 365.0,417.5 402.5,420.0 390.0,452.5 352.5,450.0 315.0,447.5Z" fill="#1cb91c"/>
<path d="M472.5,465.0 490.0,465.0 495.0,495.0 485.0,540.0 480.0,552.5 472.5,540.0Z" fill="#1cb91c"/>
<path d="M440.0,405.0 477.5,400.0 502.5,427.5 490.0,452.5 452.5,440.0Z" fill="#1cb91c"/>
<path d="M40.0,780.0 90.0,785.0 122.5,804.0 40.0,804.0Z" fill="#1cb91c"/>
<path d="M40.0,415.0 77.5,413.8 115.0,420.0 145.0,425.0 165.0,432.5 182.5,441.2 172.5,450.0 145.0,455.0 115.0,461.2 77.5,465.0 40.0,465.0Z" fill="#a8eaf4"/>
<ellipse cx="287.5" cy="432.5" rx="11.2" ry="5.5" fill="#a8eaf4"/>
<ellipse cx="335.0" cy="431.2" rx="7.0" ry="4.0" fill="#a8eaf4"/>
<ellipse cx="450.0" cy="420.0" rx="7.5" ry="3.8" fill="#a8eaf4"/>
<ellipse cx="465.0" cy="418.8" rx="5.0" ry="6.2" fill="#a8eaf4"/>
<ellipse cx="495.0" cy="475.0" rx="3.8" ry="15.0" fill="#a8eaf4"/>
<path d="M490.0,500.0 530.0,485.0 565.0,495.0 593.0,485.0 593.0,560.0 565.0,565.0 540.0,562.5 502.5,550.0 490.0,530.0Z" fill="#a8eaf4"/>
<path d="M40.0,417.5 65.0,415.0 102.5,421.2 140.0,425.0 160.0,432.5 178.8,441.2 170.0,448.8 140.0,453.8 110.0,458.8 77.5,462.5 40.0,463.8Z" fill="#ffa800" stroke="#a8eaf4" stroke-width="4" stroke-linejoin="round"/>
<ellipse cx="287.5" cy="432.5" rx="6.2" ry="3.0" fill="#ffa800"/>
<path d="M492.5,502.5 515.0,500.0 535.0,495.0 560.0,495.0 593.0,475.0 593.0,552.5 565.0,562.5 540.0,552.5 502.5,545.0 492.5,530.0Z" fill="#ffa800" stroke="#a8eaf4" stroke-width="4" stroke-linejoin="round"/>
<path d="M40.0,420.0 65.0,417.5 102.5,423.8 135.0,427.5 150.0,435.0 145.0,447.5 115.0,455.0 77.5,460.0 40.0,461.2Z" fill="#ff3c00"/>
<path d="M502.5,510.0 527.5,507.5 552.5,520.0 565.0,540.0 540.0,545.0 515.0,537.5Z" fill="#ff3c00"/>
<path d="M565.0,502.5 593.0,495.0 593.0,550.0 570.0,545.0Z" fill="#ff3c00"/>
<path d="M40.0,422.5 102.5,426.2 125.0,435.0 115.0,447.5 77.5,453.8 40.0,456.2Z" fill="#b00000"/>
<path d="M40.0,425.0 97.5,428.8 110.0,437.5 97.5,446.2 65.0,450.0 40.0,451.2Z" fill="#760000"/>
<path d="M546.0,390.0 1099.0,390.0 1099.0,804.0 546.0,804.0Z" fill="#55ee55"/>
<path d="M683.5,390.0 1083.5,390.0 1078.5,415.0 1046.0,415.0 983.5,412.5 958.5,427.5 933.5,442.5 896.0,440.0 858.5,435.0 821.0,450.0 796.0,477.5 783.5,487.5 764.8,497.5 752.2,502.5 741.0,500.0 727.2,498.8 723.5,485.0 728.5,470.0 721.0,443.8 712.2,431.2 696.0,422.5 683.5,412.5Z" fill="#ffffff"/>
<path d="M664.8,422.5 677.2,416.2 688.5,420.0 686.0,431.2 678.5,440.0 669.8,432.5Z" fill="#ffffff"/>
<path d="M546.0,580.0 571.0,582.5 596.0,590.0 606.0,597.5 621.0,619.5 636.0,632.0 641.0,652.0 646.0,672.0 656.0,687.0 666.0,697.0 683.5,712.0 698.5,729.5 712.2,743.2 723.5,754.5 733.5,763.2 743.5,759.5 741.0,772.0 712.2,775.8 696.0,784.5 676.0,792.0 671.0,804.0 546.0,804.0Z" fill="#ffffff"/>
<path d="M746.0,562.5 753.5,560.0 761.0,565.0 763.5,580.0 761.0,600.0 751.0,602.5 744.8,582.5Z" fill="#ffffff"/>
<path d="M816.0,565.0 833.5,550.0 838.5,565.0 833.5,590.0 818.5,592.5Z" fill="#ffffff"/>
<path d="M781.0,627.5 796.0,625.0 811.0,630.0 818.5,645.0 811.0,660.0 791.0,660.0 781.0,647.5Z" fill="#ffffff"/>
<path d="M746.0,650.0 761.0,640.0 781.0,642.5 793.5,660.0 816.0,660.0 828.5,647.5 846.0,637.5 871.0,620.0 896.0,602.5 921.0,580.0 936.0,565.0 951.0,530.0 971.0,495.0 1021.0,485.0 1071.0,485.0 1083.5,507.5 1066.0,530.0 1053.5,565.0 1051.0,602.5 1021.0,610.0 983.5,602.5 991.0,640.0 1006.0,665.0 1033.5,682.5 1056.0,707.5 1066.0,727.5 1021.0,760.0 971.0,747.5 921.0,735.0 883.5,732.5 858.5,725.0 823.5,720.0 811.0,712.5 786.0,692.5 766.0,672.5Z" fill="#ffffff"/>
<path d="M589.8,604.5 608.5,602.0 623.5,612.0 633.5,622.0 627.2,625.8 606.0,622.0 596.0,615.8Z" fill="#55ee55"/>
<ellipse cx="636.0" cy="699.5" rx="5.0" ry="5.0" fill="#55ee55"/>
<path d="M886.0,735.0 921.0,737.5 971.0,750.0 1021.0,765.0 1071.0,782.5 1099.0,790.0 1099.0,804.0 1033.5,804.0 996.0,790.0 946.0,770.0 908.5,755.0 888.5,745.0Z" fill="#55ee55"/>
<path d="M826.0,702.5 846.0,705.0 871.0,715.0 868.5,720.0 841.0,715.0 823.5,707.5Z" fill="#55ee55"/>
<ellipse cx="921.0" cy="647.5" rx="10.0" ry="3.8" fill="#55ee55"/>
<ellipse cx="946.0" cy="637.5" rx="6.2" ry="5.0" fill="#55ee55"/>
<ellipse cx="971.0" cy="652.5" rx="7.5" ry="3.8" fill="#55ee55"/>
<ellipse cx="958.5" cy="665.0" rx="7.5" ry="3.8" fill="#55ee55"/>
<ellipse cx="941.0" cy="665.0" rx="6.2" ry="5.0" fill="#55ee55"/>
<ellipse cx="901.0" cy="635.0" rx="10.0" ry="5.0" fill="#55ee55"/>
<ellipse cx="983.5" cy="565.0" rx="7.5" ry="5.0" fill="#55ee55"/>
<ellipse cx="971.0" cy="590.0" rx="5.0" ry="5.0" fill="#55ee55"/>
<ellipse cx="956.0" cy="550.0" rx="6.2" ry="3.8" fill="#55ee55"/>
<ellipse cx="1011.0" cy="552.5" rx="5.0" ry="3.8" fill="#55ee55"/>
<ellipse cx="988.5" cy="525.0" rx="5.0" ry="3.8" fill="#55ee55"/>
<path d="M1013.5,502.5 1026.0,500.0 1036.0,520.0 1021.0,525.0Z" fill="#55ee55"/>
<path d="M735.0,600.0 1105.0,600.0 1105.0,809.9 735.0,809.9Z" fill="#ffffff"/>
<path d="M735.0,650.2 745.0,655.2 756.7,680.3 776.8,697.0 785.2,710.4 810.3,717.1 806.9,733.8 801.9,747.2 805.3,763.9 815.3,774.0 828.7,784.0 852.1,794.0 868.8,800.7 877.2,809.9 735.0,809.9Z" fill="#55ee55"/>
<path d="M735.0,600.0 885.6,600.0 868.8,613.4 845.4,625.1 825.3,641.8 818.6,648.5 805.3,655.2 793.5,656.9 781.8,648.5 780.2,638.5 760.1,645.2 745.0,651.9 735.0,650.2Z" fill="#55ee55"/>
<path d="M888.9,636.8 902.3,633.5 919.0,621.7 935.7,616.7 942.4,626.8 929.0,633.5 912.3,633.5 902.3,640.1Z" fill="#55ee55"/>
<path d="M895.6,605.0 915.7,600.0 929.0,610.0 912.3,620.1 898.9,620.1Z" fill="#55ee55"/>
<ellipse cx="955.8" cy="625.1" rx="8.4" ry="5.0" fill="#55ee55"/>
<ellipse cx="947.4" cy="643.5" rx="5.9" ry="6.7" fill="#55ee55"/>
<ellipse cx="960.8" cy="660.2" rx="6.7" ry="5.0" fill="#55ee55"/>
<ellipse cx="945.8" cy="665.2" rx="8.4" ry="4.2" fill="#55ee55"/>
<ellipse cx="974.2" cy="656.9" rx="4.2" ry="5.0" fill="#55ee55"/>
<ellipse cx="927.4" cy="656.9" rx="2.5" ry="2.5" fill="#55ee55"/>
<ellipse cx="977.6" cy="631.8" rx="2.5" ry="1.7" fill="#55ee55"/>
<ellipse cx="975.9" cy="643.5" rx="2.5" ry="2.0" fill="#55ee55"/>
<path d="M982.6,600.0 1105.0,600.0 1098.0,700.4 1086.3,720.4 1069.6,720.4 1061.2,700.4 1052.8,683.6 1027.7,663.6 1011.0,663.6 1019.4,650.2 1002.6,633.5 985.9,616.7Z" fill="#55ee55"/>
<path d="M827.0,703.7 835.4,707.1 852.1,713.8 877.2,723.8 872.2,727.1 852.1,720.4 832.0,710.4Z" fill="#55ee55"/>
<path d="M885.6,738.8 902.3,737.2 927.4,740.5 944.1,743.9 960.8,743.9 977.6,758.9 1002.6,767.3 1027.7,780.7 1052.8,789.0 1069.6,797.4 1105.0,804.1 1105.0,809.9 1002.6,809.9 969.2,797.4 935.7,784.0 902.3,767.3 885.6,750.6Z" fill="#55ee55"/>
<ellipse cx="868.8" cy="733.8" rx="3.3" ry="3.3" fill="#55ee55"/>
<ellipse cx="880.5" cy="738.8" rx="2.5" ry="2.5" fill="#55ee55"/>
<ellipse cx="878.9" cy="780.7" rx="5.9" ry="6.7" fill="#55ee55"/>
<path d="M898.9,790.7 919.0,792.4 944.1,800.7 952.5,809.9 902.3,809.9Z" fill="#55ee55"/>
<ellipse cx="1021.0" cy="772.3" rx="3.3" ry="2.5" fill="#55ee55"/>
<ellipse cx="1029.4" cy="777.3" rx="2.5" ry="1.7" fill="#55ee55"/>
<ellipse cx="1072.9" cy="790.7" rx="6.7" ry="5.0" fill="#55ee55"/>
<path d="M1019.4,616.7 1044.5,608.4 1061.2,641.8 1052.8,675.3 1036.1,658.5Z" fill="#1cb91c"/>
<path d="M927.4,750.6 952.5,753.9 977.6,767.3 969.2,775.6 944.1,767.3Z" fill="#1cb91c"/>
<path d="M735.0,693.7 768.5,693.7 793.5,717.1 801.9,758.9 810.3,784.0 785.2,784.0 760.1,750.6 735.0,733.8Z" fill="#38d438"/>
<path d="M745.0,703.7 761.8,703.7 776.8,720.4 768.5,733.8 751.7,727.1Z" fill="#1cb91c"/>
<path d="M776.8,758.9 798.6,767.3 806.9,792.4 785.2,792.4 773.5,775.6Z" fill="#1cb91c"/>
<path d="M564.8,433.8 602.2,427.5 611.0,446.2 598.5,465.0 577.2,475.0 558.5,470.0Z" fill="#1cb91c"/>
<path d="M689.8,440.0 714.8,446.2 721.0,477.5 708.5,502.5 696.0,500.0 693.5,465.0Z" fill="#1cb91c"/>
<path d="M758.5,500.0 783.5,496.2 802.2,508.8 796.0,533.8 771.0,546.2 758.5,527.5Z" fill="#1cb91c"/>
<path d="M546.0,470.0 564.8,471.2 566.0,487.5 546.0,490.0Z" fill="#1cb91c"/>
<path d="M706.0,567.5 727.2,565.0 741.0,577.5 733.5,597.4 706.0,597.4Z" fill="#38d438"/>
<path d="M711.0,647.0 733.5,644.5 758.5,667.0 777.2,684.5 802.2,709.5 808.5,734.5 796.0,747.0 771.0,734.5 746.0,709.5 727.2,690.8 714.8,672.0Z" fill="#38d438"/>
<path d="M633.5,622.0 646.0,634.5 658.5,659.5 671.0,678.2 664.8,690.8 652.2,677.0 641.0,649.5Z" fill="#1cb91c"/>
<path d="M756.0,520.0 783.5,497.5 808.5,485.0 821.0,502.5 803.5,530.0 796.0,565.0 783.5,590.0 766.0,580.0 758.5,550.0Z" fill="#38d438"/>
<path d="M858.5,590.0 896.0,560.0 933.5,540.0 946.0,552.5 908.5,590.0 871.0,620.0Z" fill="#38d438"/>
<path d="M686.0,765.0 721.0,775.0 746.0,790.0 758.5,804.0 676.0,804.0Z" fill="#1cb91c"/>
<path d="M801.1,505.3 812.2,499.7 828.9,505.3 862.1,505.3 895.4,505.3 928.7,499.7 934.2,516.3 923.1,533.0 895.4,538.5 867.7,527.4 840.0,516.3 812.2,527.4 801.1,521.9Z" fill="#a8eaf4"/>
<path d="M823.3,469.2 845.5,449.8 867.7,444.3 889.9,452.6 903.7,469.2 906.5,494.2 895.4,505.3 878.8,508.0 862.1,491.4 840.0,480.3Z" fill="#ffa800" stroke="#a8eaf4" stroke-width="4" stroke-linejoin="round"/>
<path d="M889.9,521.9 917.6,505.3 928.7,513.6 923.1,527.4 901.0,530.2Z" fill="#ffa800" stroke="#a8eaf4" stroke-width="4" stroke-linejoin="round"/>
<path d="M948.1,491.4 961.9,472.0 978.6,433.2 992.4,419.3 1034.0,419.3 1075.6,427.6 1097.8,430.4 1097.8,480.3 1061.8,472.0 1020.2,466.4 978.6,480.3 956.4,494.2Z" fill="#ffa800" stroke="#a8eaf4" stroke-width="4" stroke-linejoin="round"/>
<path d="M1056.2,566.2 1067.3,530.2 1078.4,519.1 1097.8,516.3 1097.8,616.1 1061.8,616.1 1056.2,594.0Z" fill="#ffa800" stroke="#a8eaf4" stroke-width="4" stroke-linejoin="round"/>
<path d="M790.1,566.2 801.1,563.5 803.9,594.0 826.1,605.1 853.8,596.7 870.5,599.5 862.1,616.1 840.0,627.2 823.3,643.9 812.2,630.0 801.1,607.8 790.1,585.7Z" fill="#ffa800" stroke="#a8eaf4" stroke-width="4" stroke-linejoin="round"/>
<path d="M840.0,521.9 862.1,516.3 873.2,533.0 867.7,555.2 848.3,577.3 842.7,560.7Z" fill="#ffa800" stroke="#a8eaf4" stroke-width="4" stroke-linejoin="round"/>
<ellipse cx="828.9" cy="538.5" rx="12.5" ry="9.7" fill="#ffa800"/>
<path d="M840.0,466.4 862.1,452.6 884.3,455.4 901.0,472.0 903.7,491.4 884.3,499.7 867.7,488.6Z" fill="#ff3c00"/>
<path d="M967.5,472.0 984.1,433.2 1006.3,422.1 1061.8,427.6 1097.8,433.2 1097.8,474.8 1061.8,466.4 1020.2,460.9 984.1,466.4Z" fill="#ff3c00"/>
<path d="M1061.8,560.7 1072.8,527.4 1097.8,521.9 1097.8,613.4 1067.3,610.6Z" fill="#ff3c00"/>
<path d="M842.7,527.4 862.1,521.9 870.5,535.7 864.9,555.2 851.1,569.0Z" fill="#ff3c00"/>
<path d="M801.1,594.0 828.9,607.8 853.8,599.5 867.7,602.3 845.5,621.7 823.3,638.3 812.2,621.7Z" fill="#ff3c00"/>
<path d="M862.1,452.6 881.5,455.4 898.2,474.8 895.4,491.4 878.8,483.1Z" fill="#dc2000"/>
<path d="M989.7,433.2 1020.2,424.9 1075.6,433.2 1097.8,438.7 1097.8,466.4 1061.8,460.9 1020.2,452.6 995.2,449.8Z" fill="#dc2000"/>
<path d="M1075.6,533.0 1097.8,527.4 1097.8,599.5 1078.4,594.0 1072.8,566.2Z" fill="#dc2000"/>
<ellipse cx="828.9" cy="538.5" rx="8.3" ry="6.9" fill="#dc2000"/>
<path d="M848.3,530.2 862.1,527.4 864.9,544.1 853.8,560.7Z" fill="#dc2000"/>
<path d="M809.5,607.8 828.9,613.4 845.5,610.6 828.9,630.0 820.6,627.2Z" fill="#dc2000"/>
<path d="M1006.3,433.2 1034.0,433.2 1075.6,441.5 1070.1,458.1 1034.0,452.6 1011.9,444.3Z" fill="#b00000"/>
<path d="M1083.9,538.5 1097.8,535.7 1097.8,577.3 1086.7,571.8Z" fill="#b00000"/>
<ellipse cx="876.0" cy="466.4" rx="9.7" ry="11.1" fill="#b00000"/>
<path d="M741.0,754.5 752.2,750.8 771.0,762.0 796.0,782.0 814.8,797.0 814.8,804.4 756.0,804.4 748.5,784.5Z" fill="#a8eaf4"/>
<path d="M743.5,755.8 752.2,753.2 766.0,762.0 783.5,777.0 802.2,790.8 811.0,804.4 758.5,804.4 751.0,784.5Z" fill="#ffa800" stroke="#a8eaf4" stroke-width="4" stroke-linejoin="round"/>
<path d="M748.5,759.5 758.5,759.5 777.2,774.5 796.0,789.5 806.0,804.4 761.0,804.4 756.0,784.5Z" fill="#ff3c00"/>
<path d="M758.5,782.0 771.0,784.5 781.0,797.0 777.2,804.4 761.0,804.4Z" fill="#dc2000"/>
<ellipse cx="769.8" cy="797.0" rx="6.2" ry="5.6" fill="#b00000"/>
<path d="M716.0,699.5 728.5,699.5 741.0,715.8 771.0,722.0 783.5,738.2 771.0,740.8 733.5,722.0 714.8,709.5Z" fill="#a8eaf4"/>
<path d="M716.0,704.5 727.2,703.2 737.2,715.8 733.5,722.0 721.0,717.0Z" fill="#ffa800" stroke="#a8eaf4" stroke-width="4" stroke-linejoin="round"/>
<path d="M708.5,510.0 723.5,507.5 741.0,517.5 746.0,540.0 741.0,556.2 727.2,558.8 714.8,556.2 708.5,547.5Z" fill="#a8eaf4"/>
<path d="M606.0,452.5 621.0,450.0 627.2,465.0 616.0,470.0 604.8,467.5Z" fill="#a8eaf4"/>
<path d="M663.5,450.0 671.0,450.0 678.5,455.0 696.0,457.5 693.5,470.0 671.0,472.5Z" fill="#a8eaf4"/>
<path d="M546.0,492.5 561.0,487.5 571.0,485.0 568.5,500.0 546.0,502.5Z" fill="#a8eaf4"/>
<path d="M688.5,555.0 703.5,552.5 707.2,562.5 701.0,567.5 689.8,565.0Z" fill="#a8eaf4"/>
<path d="M546.0,555.0 564.8,553.8 578.5,557.5 587.2,566.2 598.5,573.8 611.0,577.5 621.0,572.5 633.5,563.8 641.0,562.5 633.5,572.5 616.0,580.0 596.0,577.5 577.2,567.5 546.0,565.0Z" fill="#a8eaf4"/>
<path d="M641.0,597.0 733.5,597.0 738.5,613.2 721.0,647.0 712.2,652.0 711.0,672.0 718.5,684.5 736.0,697.0 739.8,715.8 771.0,722.0 783.5,738.2 771.0,740.8 733.5,722.0 708.5,709.5 689.8,692.0 671.0,682.0 658.5,659.5 646.0,634.5 641.0,615.8Z" fill="#a8eaf4"/>
<path d="M614.8,420.0 627.2,417.5 641.0,420.0 653.5,431.2 658.5,445.0 666.0,463.8 664.8,471.2 656.0,472.5 648.5,470.0 644.8,477.5 646.0,485.0 636.0,486.2 628.5,477.5 627.2,465.0 621.0,455.0 616.0,445.0 613.5,432.5Z" fill="#ffa800" stroke="#a8eaf4" stroke-width="4" stroke-linejoin="round"/>
<path d="M598.5,467.5 608.5,465.0 612.2,472.5 606.0,477.5 598.5,476.2Z" fill="#ffa800" stroke="#a8eaf4" stroke-width="4" stroke-linejoin="round"/>
<path d="M583.5,477.5 593.5,475.0 597.2,485.0 596.0,497.5 588.5,500.0 583.5,492.5Z" fill="#ffa800" stroke="#a8eaf4" stroke-width="4" stroke-linejoin="round"/>
<path d="M613.5,485.0 622.2,482.5 627.2,492.5 626.0,502.5 616.0,502.5Z" fill="#ffa800" stroke="#a8eaf4" stroke-width="4" stroke-linejoin="round"/>
<path d="M676.0,460.0 689.8,458.8 691.0,471.2 686.0,482.5 677.2,481.2 674.8,471.2Z" fill="#ffa800" stroke="#a8eaf4" stroke-width="4" stroke-linejoin="round"/>
<path d="M693.5,480.0 703.5,477.5 706.0,490.0 701.0,500.0 693.5,500.0 689.8,490.0Z" fill="#ffa800" stroke="#a8eaf4" stroke-width="4" stroke-linejoin="round"/>
<path d="M671.0,490.0 683.5,488.8 693.5,493.8 698.5,502.5 689.8,505.0 677.2,500.0Z" fill="#ffa800" stroke="#a8eaf4" stroke-width="4" stroke-linejoin="round"/>
<path d="M546.0,502.5 556.0,498.8 566.0,500.0 578.5,497.5 587.2,500.0 598.5,500.0 608.5,497.5 621.0,502.5 633.5,497.5 646.0,496.2 658.5,497.5 671.0,500.0 678.5,502.5 679.8,515.0 677.2,527.5 676.0,540.0 681.0,546.2 688.5,552.5 692.2,562.5 686.0,565.0 671.0,553.8 658.5,556.2 646.0,558.8 633.5,562.5 623.5,568.8 616.0,573.8 606.0,576.2 596.0,572.5 587.2,567.5 578.5,558.8 564.8,555.0 546.0,556.2Z" fill="#ffa800" stroke="#a8eaf4" stroke-width="4" stroke-linejoin="round"/>
<path d="M689.8,515.0 698.5,511.2 711.0,512.5 721.0,517.5 731.0,525.0 737.2,537.5 732.2,545.0 721.0,546.2 708.5,543.8 703.5,546.2 704.8,556.2 701.0,565.0 696.0,563.8 693.5,552.5 691.0,537.5 688.5,525.0Z" fill="#ffa800" stroke="#a8eaf4" stroke-width="4" stroke-linejoin="round"/>
<path d="M621.0,572.5 633.5,562.5 646.0,561.2 658.5,562.5 671.0,567.5 683.5,575.0 696.0,582.5 708.5,587.5 718.5,597.4 621.0,597.4Z" fill="#ffa800" stroke="#a8eaf4" stroke-width="4" stroke-linejoin="round"/>
<path d="M646.0,597.0 726.0,597.0 727.2,622.0 721.0,637.0 702.2,649.5 698.5,667.0 701.0,682.0 683.5,682.0 673.5,672.0 664.8,662.0 653.5,647.0 646.0,628.2Z" fill="#ffa800" stroke="#a8eaf4" stroke-width="4" stroke-linejoin="round"/>
<path d="M618.5,427.5 633.5,422.5 646.0,430.0 653.5,442.5 658.5,457.5 661.0,467.5 653.5,470.0 644.8,460.0 638.5,448.8 626.0,442.5 619.8,437.5Z" fill="#ff3c00"/>
<path d="M564.8,512.5 583.5,510.0 602.2,513.8 616.0,518.8 627.2,527.5 636.0,537.5 641.0,550.0 633.5,557.5 616.0,565.0 603.5,567.5 587.2,562.5 577.2,552.5 568.5,540.0 566.0,527.5Z" fill="#ff3c00"/>
<path d="M643.5,505.0 658.5,502.5 671.0,510.0 671.0,527.5 666.0,540.0 656.0,547.5 646.0,542.5 641.0,527.5Z" fill="#ff3c00"/>
<path d="M546.0,510.0 553.5,508.8 561.0,521.2 558.5,546.2 546.0,550.0Z" fill="#ff3c00"/>
<path d="M692.2,520.0 708.5,518.8 721.0,525.0 726.0,535.0 718.5,542.5 706.0,540.0 696.0,535.0Z" fill="#ff3c00"/>
<path d="M633.5,567.5 652.2,565.0 671.0,572.5 689.8,581.2 706.0,590.0 708.5,597.4 627.2,597.4Z" fill="#ff3c00"/>
<path d="M677.2,491.2 689.8,491.2 693.5,498.8 683.5,500.0Z" fill="#ff3c00"/>
<path d="M661.0,597.0 721.0,597.0 723.5,615.8 716.0,634.5 702.2,644.5 696.0,667.0 683.5,667.0 671.0,659.5 664.8,634.5 658.5,615.8Z" fill="#ff3c00"/>
<path d="M623.5,430.0 633.5,427.5 641.0,435.0 636.0,445.0 626.0,440.0Z" fill="#dc2000"/>
<path d="M644.8,450.0 653.5,452.5 656.0,465.0 648.5,465.0Z" fill="#dc2000"/>
<path d="M583.5,521.2 602.2,522.5 614.8,533.8 608.5,546.2 593.5,546.2 583.5,533.8Z" fill="#dc2000"/>
<path d="M696.0,522.5 708.5,523.8 713.5,533.8 703.5,537.5Z" fill="#dc2000"/>
<path d="M693.5,597.0 714.8,597.0 718.5,615.8 708.5,628.2 699.8,622.0Z" fill="#dc2000"/>
<ellipse cx="718.0" cy="710.4" rx="8.3" ry="6.9" fill="#ffa800"/></g>
<use href="#grid"/>
<use href="#borders"/>
</g>
<use href="#labels"/>
<text x="17" y="817.5" textLength="1115" lengthAdjust="spacingAndGlyphs" font-size="16.5" fill="#6a6a6a" font-weight="normal" font-family="Liberation Mono">NOAA GEFS 20230221 00zCYC FCST Probability of Week1 Precip &gt; 50mm  VALID 20230228/0000V168</text>
<use href="#cbar"/>
</svg>
<svg style="position:absolute;left:1340px;top:550px;filter:blur(0.9px)" width="1145" height="857" viewBox="0 0 1138 852" preserveAspectRatio="none">
<rect width="1138" height="852" fill="#fff"/>
<g clip-path="url(#plotclip)">
<g><path d="M39.8,0.0 248.5,0.0 236.0,29.8 213.7,52.2 196.3,49.7 178.9,34.8 156.5,32.3 144.1,14.9 134.2,27.3 119.3,37.3 129.2,54.7 106.8,74.5 94.4,94.4 96.9,111.8 77.0,126.7 39.8,136.7Z" fill="#55ee55"/>
<path d="M39.8,0.0 121.8,0.0 114.3,29.8 101.9,62.1 89.4,94.4 64.6,111.8 39.8,119.3Z" fill="#1cb91c"/>
<path d="M253.4,0.0 345.4,0.0 350.3,14.9 400.0,14.9 462.2,0.0 524.3,0.0 506.9,19.9 474.6,32.3 437.3,39.8 400.0,37.3 362.8,39.8 337.9,49.7 313.1,52.2 288.2,54.7 263.4,49.7 255.9,24.8Z" fill="#55ee55"/>
<ellipse cx="288.2" cy="24.8" rx="14.9" ry="9.9" fill="#ffffff"/>
<ellipse cx="375.2" cy="27.3" rx="14.9" ry="6.2" fill="#ffffff"/>
<path d="M462.2,39.8 487.0,34.8 506.9,44.7 499.4,57.1 477.1,62.1 462.2,57.1Z" fill="#55ee55"/>
<ellipse cx="511.9" cy="39.8" rx="5.0" ry="3.7" fill="#55ee55"/>
<ellipse cx="526.8" cy="44.7" rx="5.0" ry="3.7" fill="#55ee55"/>
<ellipse cx="278.3" cy="79.5" rx="6.2" ry="3.7" fill="#55ee55"/>
<ellipse cx="288.2" cy="64.6" rx="7.5" ry="3.7" fill="#55ee55"/>
<ellipse cx="303.1" cy="65.8" rx="5.0" ry="3.7" fill="#55ee55"/>
<path d="M228.6,313.1 263.4,308.1 288.2,305.6 313.1,320.5 337.9,328.0 350.3,323.0 362.8,313.1 387.6,318.0 397.6,330.5 392.6,342.9 375.2,337.9 350.3,342.9 325.5,350.3 288.2,355.3 263.4,355.3 238.5,342.9 228.6,328.0Z" fill="#55ee55"/>
<path d="M397.6,352.8 424.9,337.9 447.2,330.5 462.2,340.4 457.2,360.3 442.3,367.7 412.5,362.8Z" fill="#55ee55"/>
<path d="M39.8,367.7 89.4,362.8 126.7,360.3 164.0,347.9 201.3,342.9 233.6,345.4 263.4,357.8 300.7,357.8 325.5,362.8 362.8,360.3 397.6,367.7 417.4,372.7 437.3,380.2 449.7,372.7 474.6,360.3 499.4,355.3 524.3,357.8 561.5,357.8 589.4,357.8 589.4,411.5 39.8,411.5Z" fill="#55ee55"/>
<path d="M114.3,392.6 188.8,387.6 263.4,382.6 313.1,372.7 362.8,377.7 392.6,387.6 400.0,411.5 101.9,411.5Z" fill="#ffffff"/>
<ellipse cx="511.9" cy="377.7" rx="9.9" ry="7.5" fill="#ffffff"/>
<ellipse cx="561.5" cy="397.6" rx="12.4" ry="7.5" fill="#ffffff"/>
<path d="M39.8,372.7 114.3,367.7 164.0,355.3 213.7,347.9 251.0,352.8 238.5,372.7 188.8,377.7 114.3,382.6 39.8,387.6Z" fill="#1cb91c"/>
<path d="M238.5,323.0 288.2,315.6 313.1,330.5 300.7,347.9 263.4,347.9Z" fill="#1cb91c"/>
<path d="M437.3,367.7 524.3,367.7 536.7,411.5 437.3,411.5Z" fill="#1cb91c"/>
<ellipse cx="201.3" cy="357.8" rx="17.4" ry="7.5" fill="#a8eaf4"/>
<ellipse cx="318.0" cy="340.4" rx="7.5" ry="7.5" fill="#a8eaf4"/>
<ellipse cx="305.6" cy="342.9" rx="5.0" ry="5.0" fill="#a8eaf4"/>
<ellipse cx="258.4" cy="346.6" rx="8.7" ry="5.0" fill="#ffa800"/>
<ellipse cx="439.8" cy="345.4" rx="3.7" ry="7.5" fill="#ffa800"/>
<ellipse cx="447.2" cy="387.6" rx="8.7" ry="5.0" fill="#ffa800"/>
<ellipse cx="191.3" cy="360.3" rx="2.0" ry="2.0" fill="#ffa800"/>
<path d="M547.6,0.0 642.1,0.0 644.5,19.9 639.6,32.3 622.2,32.3 597.3,27.3 577.4,32.3 557.6,29.8 547.6,22.4Z" fill="#55ee55"/>
<path d="M547.6,0.0 597.3,0.0 592.4,14.9 562.5,22.4 547.6,19.9Z" fill="#1cb91c"/>
<path d="M736.5,0.0 771.3,0.0 786.2,14.9 796.1,34.8 786.2,37.3 766.3,27.3 746.4,14.9Z" fill="#55ee55"/>
<ellipse cx="709.1" cy="24.8" rx="7.5" ry="4.5" fill="#55ee55"/>
<ellipse cx="858.2" cy="37.3" rx="3.7" ry="3.0" fill="#55ee55"/>
<ellipse cx="844.6" cy="74.5" rx="8.7" ry="6.2" fill="#55ee55"/>
<path d="M1014.8,0.0 1097.3,0.0 1097.3,64.6 1081.8,49.7 1059.5,44.7 1054.5,29.8 1032.2,19.9 1019.7,12.4Z" fill="#55ee55"/>
<path d="M982.5,347.9 999.8,337.9 1032.2,333.0 1069.4,337.9 1097.3,333.0 1097.3,411.5 1032.2,411.5 1019.7,392.6 994.9,367.7 984.9,360.3Z" fill="#55ee55"/>
<path d="M922.8,350.3 947.7,350.3 947.7,367.7 930.3,367.7Z" fill="#55ee55"/>
<ellipse cx="967.5" cy="314.3" rx="5.0" ry="5.0" fill="#55ee55"/>
<ellipse cx="890.5" cy="366.5" rx="3.0" ry="2.5" fill="#55ee55"/>
<ellipse cx="739.0" cy="290.7" rx="2.5" ry="2.5" fill="#55ee55"/>
<ellipse cx="734.0" cy="335.4" rx="6.2" ry="9.9" fill="#55ee55"/>
<path d="M547.6,362.8 567.5,365.3 597.3,372.7 617.2,370.2 642.1,377.7 647.0,411.5 547.6,411.5Z" fill="#55ee55"/>
<path d="M657.0,402.5 681.8,397.6 686.8,411.5 654.5,411.5Z" fill="#55ee55"/>
<path d="M1069.4,347.9 1097.3,342.9 1097.3,411.5 1069.4,411.5 1064.5,372.7Z" fill="#1cb91c"/>
<path d="M597.3,387.6 642.1,382.6 644.5,411.5 584.9,411.5Z" fill="#1cb91c"/>
<path d="M39.8,392.6 64.6,392.6 89.4,402.5 114.3,412.5 139.1,410.0 164.0,407.5 159.0,422.4 173.9,442.3 164.0,452.2 139.1,457.2 114.3,467.1 89.4,464.6 64.6,462.2 39.8,464.6Z" fill="#55ee55"/>
<ellipse cx="188.8" cy="410.0" rx="7.5" ry="5.0" fill="#55ee55"/>
<ellipse cx="151.6" cy="410.0" rx="12.4" ry="5.0" fill="#55ee55"/>
<ellipse cx="59.6" cy="474.6" rx="5.0" ry="5.0" fill="#55ee55"/>
<path d="M387.6,392.6 589.4,392.6 589.4,641.1 561.5,641.1 551.6,623.7 536.7,631.1 521.8,626.1 516.8,603.8 511.9,581.4 494.5,571.5 472.1,556.6 467.1,541.7 477.1,524.3 482.0,504.4 477.1,479.6 467.1,459.7 442.3,437.3 417.4,427.4 400.0,407.5Z" fill="#55ee55"/>
<ellipse cx="506.9" cy="484.5" rx="9.9" ry="7.5" fill="#ffffff"/>
<path d="M467.1,544.2 487.0,539.2 499.4,551.6 494.5,571.5 472.1,566.5Z" fill="#ffffff"/>
<ellipse cx="531.7" cy="424.9" rx="5.0" ry="5.0" fill="#ffffff"/>
<ellipse cx="561.5" cy="407.5" rx="7.5" ry="5.0" fill="#ffffff"/>
<path d="M569.0,658.4 589.4,653.5 589.4,698.2 574.0,690.8Z" fill="#55ee55"/>
<ellipse cx="583.9" cy="720.6" rx="7.5" ry="9.9" fill="#55ee55"/>
<ellipse cx="521.8" cy="646.0" rx="12.4" ry="6.2" fill="#55ee55"/>
<path d="M39.8,611.2 54.7,608.8 69.6,631.1 94.4,638.6 124.2,636.1 134.2,656.0 156.5,660.9 178.9,675.8 193.8,685.8 213.7,690.8 243.5,698.2 263.4,715.6 288.2,735.5 300.7,755.4 325.5,770.3 350.3,785.2 370.2,804.1 39.8,804.1Z" fill="#55ee55"/>
<path d="M178.9,728.0 213.7,725.5 251.0,740.4 273.3,760.3 263.4,772.7 238.5,760.3 213.7,747.9 188.8,745.4Z" fill="#ffffff"/>
<path d="M69.6,752.9 114.3,757.8 151.6,770.3 188.8,780.2 164.0,795.1 126.7,790.1 89.4,780.2 69.6,765.3Z" fill="#ffffff"/>
<path d="M109.3,665.9 144.1,660.9 151.6,678.3 126.7,685.8Z" fill="#ffffff"/>
<ellipse cx="99.4" cy="631.1" rx="5.0" ry="3.7" fill="#55ee55"/>
<ellipse cx="121.8" cy="632.4" rx="3.7" ry="3.0" fill="#55ee55"/>
<ellipse cx="196.3" cy="657.2" rx="3.7" ry="3.7" fill="#55ee55"/>
<ellipse cx="285.7" cy="697.0" rx="3.7" ry="3.0" fill="#55ee55"/>
<ellipse cx="323.0" cy="728.0" rx="3.7" ry="3.0" fill="#55ee55"/>
<ellipse cx="335.4" cy="742.9" rx="5.0" ry="3.7" fill="#55ee55"/>
<path d="M39.8,417.4 101.9,427.4 151.6,432.3 164.0,447.2 114.3,457.2 64.6,457.2 39.8,452.2Z" fill="#1cb91c"/>
<path d="M387.6,392.6 449.7,392.6 511.9,422.4 561.5,467.1 561.5,566.5 524.3,566.5 487.0,531.7 462.2,467.1 437.3,429.9Z" fill="#1cb91c"/>
<path d="M39.8,653.5 89.4,678.3 151.6,698.2 213.7,715.6 263.4,735.5 288.2,760.3 238.5,770.3 164.0,745.4 89.4,728.0 39.8,715.6Z" fill="#1cb91c"/>
<path d="M524.3,586.4 556.6,591.4 561.5,628.6 531.7,626.1Z" fill="#1cb91c"/>
<path d="M492.0,514.3 511.9,509.4 536.7,506.9 561.5,509.4 589.4,504.4 589.4,586.4 574.0,581.4 549.1,551.6 524.3,541.7 499.4,526.8Z" fill="#a8eaf4"/>
<path d="M39.8,678.3 64.6,685.8 89.4,695.7 114.3,698.2 139.1,703.2 134.2,710.6 89.4,713.1 77.0,723.1 39.8,723.1Z" fill="#a8eaf4"/>
<ellipse cx="459.7" cy="417.4" rx="7.5" ry="7.5" fill="#a8eaf4"/>
<path d="M526.8,526.8 549.1,516.8 574.0,511.9 589.4,509.4 589.4,566.5 574.0,564.0 549.1,546.6 531.7,541.7Z" fill="#ffa800" stroke="#a8eaf4" stroke-width="4" stroke-linejoin="round"/>
<ellipse cx="506.9" cy="518.1" rx="7.5" ry="5.0" fill="#ffa800"/>
<ellipse cx="524.3" cy="519.3" rx="5.0" ry="3.7" fill="#ffa800"/>
<ellipse cx="459.7" cy="417.4" rx="5.5" ry="5.5" fill="#ffa800"/>
<ellipse cx="62.1" cy="708.1" rx="3.0" ry="2.5" fill="#ffa800"/>
<ellipse cx="50.9" cy="718.1" rx="3.0" ry="2.0" fill="#ffa800"/>
<path d="M556.6,531.7 589.4,521.8 589.4,561.5 566.5,556.6Z" fill="#ff3c00"/>
<path d="M547.6,392.6 1097.3,392.6 1097.3,804.1 547.6,804.1Z" fill="#55ee55"/>
<path d="M686.8,392.6 1032.2,392.6 1044.6,402.5 1069.4,407.5 1081.8,422.4 1044.6,422.4 1007.3,424.9 970.0,419.9 945.2,422.4 920.3,414.9 895.5,419.9 870.6,437.3 845.8,439.8 821.0,452.2 796.1,462.2 771.3,472.1 758.8,479.6 741.4,479.6 736.5,467.1 726.5,442.3 716.6,424.9 696.7,412.5Z" fill="#ffffff"/>
<path d="M1097.3,551.6 1044.6,566.5 1007.3,586.4 999.8,616.2 1004.8,641.1 999.8,665.9 1019.7,690.8 1012.3,708.1 984.9,713.1 975.0,740.4 984.9,765.3 994.9,780.2 1032.2,785.2 1097.3,780.2Z" fill="#ffffff"/>
<path d="M1007.3,631.1 1032.2,628.6 1057.0,626.1 1074.4,641.1 1081.8,665.9 1069.4,678.3 1032.2,678.3 1014.8,665.9 1004.8,653.5Z" fill="#55ee55"/>
<path d="M547.6,616.2 572.5,631.1 597.3,638.6 622.2,631.1 642.1,623.7 634.6,643.5 609.7,660.9 577.4,668.4 575.0,690.8 579.9,715.6 597.3,728.0 622.2,725.5 654.5,703.2 664.4,715.6 684.3,715.6 701.7,728.0 709.1,752.9 721.6,777.7 741.4,790.1 758.8,804.1 547.6,804.1Z" fill="#ffffff"/>
<path d="M577.4,668.4 609.7,660.9 634.6,643.5 654.5,653.5 659.4,690.8 647.0,710.6 622.2,725.5 597.3,725.5 579.9,710.6Z" fill="#55ee55"/>
<path d="M781.2,690.8 808.5,688.3 811.0,703.2 783.7,703.2Z" fill="#ffffff"/>
<ellipse cx="907.9" cy="726.8" rx="7.5" ry="6.2" fill="#ffffff"/>
<ellipse cx="932.8" cy="710.6" rx="6.2" ry="6.2" fill="#ffffff"/>
<ellipse cx="821.0" cy="772.7" rx="12.4" ry="7.5" fill="#ffffff"/>
<ellipse cx="865.7" cy="790.1" rx="17.4" ry="12.4" fill="#ffffff"/>
<ellipse cx="945.2" cy="780.2" rx="22.4" ry="12.4" fill="#ffffff"/>
<ellipse cx="604.8" cy="638.6" rx="9.9" ry="7.5" fill="#ffffff"/>
<ellipse cx="622.2" cy="760.3" rx="5.0" ry="3.7" fill="#55ee55"/>
<ellipse cx="659.4" cy="770.3" rx="5.0" ry="3.7" fill="#55ee55"/>
<ellipse cx="587.4" cy="715.6" rx="6.2" ry="5.0" fill="#55ee55"/>
<path d="M746.4,479.6 796.1,467.1 870.6,442.3 945.2,424.9 1019.7,429.9 1097.3,429.9 1097.3,541.7 1044.6,554.1 994.9,566.5 920.3,566.5 870.6,571.5 821.0,566.5 771.3,561.5 746.4,541.7Z" fill="#38d438"/>
<path d="M883.1,467.1 970.0,454.7 1044.6,467.1 1097.3,454.7 1097.3,504.4 1019.7,516.8 945.2,529.2 895.5,541.7 870.6,504.4Z" fill="#1cb91c"/>
<path d="M671.9,566.5 746.4,554.1 796.1,591.4 895.5,616.2 945.2,641.1 970.0,703.2 920.3,715.6 845.8,703.2 771.3,678.3 721.6,641.1 684.3,616.2Z" fill="#1cb91c"/>
<path d="M547.6,392.6 622.2,392.6 634.6,429.9 609.7,479.6 584.9,504.4 547.6,504.4Z" fill="#1cb91c"/>
<path d="M721.6,715.6 771.3,715.6 783.7,765.3 746.4,777.7 721.6,752.9Z" fill="#1cb91c"/>
<path d="M659.4,402.5 684.3,407.5 721.6,442.3 726.5,474.6 696.7,467.1 666.9,442.3Z" fill="#1cb91c"/>
<ellipse cx="893.0" cy="460.9" rx="7.5" ry="5.0" fill="#ffffff"/>
<ellipse cx="912.9" cy="457.2" rx="3.7" ry="6.2" fill="#ffffff"/>
<ellipse cx="1019.7" cy="462.2" rx="6.2" ry="3.7" fill="#ffffff"/>
<ellipse cx="1042.1" cy="526.8" rx="5.0" ry="3.7" fill="#ffffff"/>
<ellipse cx="900.5" cy="611.2" rx="5.0" ry="6.2" fill="#ffffff"/>
<path d="M930.3,516.8 957.6,514.3 975.0,531.7 970.0,546.6 945.2,554.1 930.3,541.7Z" fill="#a8eaf4"/>
<path d="M840.8,631.1 860.7,636.1 865.7,641.1 888.0,665.9 875.6,675.8 855.7,670.9 840.8,660.9Z" fill="#a8eaf4"/>
<ellipse cx="994.9" cy="531.7" rx="9.9" ry="3.7" fill="#a8eaf4"/>
<path d="M617.2,417.4 647.0,414.9 657.0,442.3 652.0,467.1 642.1,474.6 629.6,467.1 622.2,442.3Z" fill="#ffa800" stroke="#a8eaf4" stroke-width="4" stroke-linejoin="round"/>
<path d="M652.0,467.1 664.4,454.7 676.8,474.6 686.8,447.2 696.7,444.8 701.7,467.1 711.6,459.7 716.6,474.6 731.5,496.9 716.6,501.9 696.7,496.9 671.9,496.9 657.0,492.0Z" fill="#ffa800" stroke="#a8eaf4" stroke-width="4" stroke-linejoin="round"/>
<ellipse cx="634.6" cy="474.6" rx="6.2" ry="7.5" fill="#ffa800"/>
<ellipse cx="706.7" cy="449.7" rx="5.0" ry="9.9" fill="#ffa800"/>
<ellipse cx="592.4" cy="519.3" rx="6.2" ry="3.7" fill="#ffffff"/>
<ellipse cx="947.7" cy="534.2" rx="7.5" ry="4.5" fill="#ffa800"/>
<ellipse cx="947.7" cy="546.6" rx="6.2" ry="2.5" fill="#ffa800"/>
<ellipse cx="863.2" cy="561.5" rx="6.2" ry="5.0" fill="#ffa800"/>
<ellipse cx="858.2" cy="541.7" rx="5.0" ry="3.7" fill="#ffa800"/>
<path d="M619.7,419.9 647.0,417.4 652.0,437.3 642.1,447.2 629.6,442.3Z" fill="#ff3c00"/>
<path d="M536.7,506.3 579.8,500.5 611.5,483.3 631.6,483.3 623.0,420.0 651.7,414.3 660.4,443.0 686.2,448.8 697.7,443.0 715.0,460.3 738.0,489.0 755.3,500.5 795.5,500.5 824.3,497.7 853.0,514.9 867.4,529.3 881.8,552.3 881.8,569.6 853.0,566.7 838.7,586.8 824.3,618.4 807.0,615.6 789.8,575.3 766.8,558.0 749.5,558.0 723.6,586.8 697.7,609.8 674.7,612.7 651.7,598.3 623.0,592.6 602.8,581.1 571.2,575.3 536.7,558.0Z" fill="#a8eaf4"/>
<path d="M536.7,512.0 579.8,506.3 611.5,489.0 625.8,483.3 631.6,489.0 651.7,489.0 669.0,483.3 686.2,466.0 697.7,460.3 720.8,477.5 743.8,500.5 766.8,500.5 795.5,506.3 824.3,509.2 841.5,514.9 853.0,529.3 847.3,555.2 830.0,558.0 812.8,566.7 795.5,558.0 784.0,552.3 761.0,546.5 738.0,569.6 709.2,586.8 697.7,604.1 674.7,606.9 651.7,592.6 623.0,586.8 605.7,578.2 571.2,569.6 536.7,558.0Z" fill="#ffa800" stroke="#a8eaf4" stroke-width="4" stroke-linejoin="round"/>
<path d="M786.9,569.6 812.8,552.3 835.8,526.4 844.4,523.5 853.0,558.0 838.7,592.6 827.2,618.4 804.2,615.6 789.8,595.4Z" fill="#ffa800" stroke="#a8eaf4" stroke-width="4" stroke-linejoin="round"/>
<path d="M657.5,379.7 686.2,385.5 680.5,422.9 671.9,448.8 657.5,448.8 651.7,414.3Z" fill="#38d438"/>
<path d="M709.2,391.3 732.3,399.9 738.0,422.9 723.6,437.3 709.2,414.3Z" fill="#38d438"/>
<path d="M646.0,437.3 669.0,437.3 686.2,454.5 680.5,489.0 657.5,489.0 646.0,466.0Z" fill="#ffa800" stroke="#a8eaf4" stroke-width="4" stroke-linejoin="round"/>
<path d="M565.5,523.5 594.2,512.0 623.0,500.5 646.0,494.8 666.1,489.0 680.5,477.5 697.7,454.5 715.0,466.0 738.0,494.8 749.5,512.0 749.5,552.3 720.8,581.1 697.7,586.8 674.7,604.1 651.7,586.8 623.0,575.3 594.2,569.6 568.3,558.0Z" fill="#ff3c00"/>
<path d="M620.1,420.0 646.0,417.1 657.5,443.0 651.7,466.0 640.2,471.8 628.7,448.8Z" fill="#ff3c00"/>
<path d="M671.9,451.6 689.1,391.3 706.4,385.5 709.2,420.0 717.9,431.5 729.4,408.5 746.6,443.0 752.4,483.3 723.6,494.8 683.4,489.0Z" fill="#ffa800" stroke="#a8eaf4" stroke-width="4" stroke-linejoin="round"/>
<path d="M680.5,451.6 693.4,402.8 702.1,399.9 706.4,428.6 717.9,443.0 727.9,422.9 740.9,448.8 746.6,480.4 723.6,489.0 686.2,483.3Z" fill="#ff3c00"/>
<path d="M789.8,575.3 812.8,558.0 832.9,535.0 841.5,529.3 847.3,558.0 835.8,586.8 824.3,615.6 807.0,612.7 792.6,595.4Z" fill="#ff3c00"/>
<path d="M646.0,500.5 674.7,494.8 697.7,517.8 703.5,558.0 686.2,563.8 663.2,546.5 646.0,529.3Z" fill="#dc2000"/>
<path d="M697.7,489.0 726.5,500.5 743.8,529.3 720.8,546.5 703.5,529.3Z" fill="#dc2000"/>
<path d="M801.3,581.1 824.3,552.3 838.7,537.9 838.7,572.4 824.3,601.2 807.0,598.3Z" fill="#dc2000"/>
<path d="M623.0,431.5 640.2,428.6 646.0,448.8 631.6,448.8Z" fill="#dc2000"/>
<ellipse cx="827.2" cy="546.5" rx="7.2" ry="12.9" fill="#b00000"/>
<ellipse cx="657.5" cy="523.5" rx="8.6" ry="11.5" fill="#b00000"/>
<ellipse cx="591.3" cy="517.8" rx="6.3" ry="4.0" fill="#ffffff"/></g>
<use href="#grid"/>
<use href="#borders"/>
</g>
<use href="#labels"/>
<text x="17" y="817.5" textLength="1115" lengthAdjust="spacingAndGlyphs" font-size="16.5" fill="#6a6a6a" font-weight="normal" font-family="Liberation Mono">NOAA GEFS 20230221 00zCYC FCST Probability of Week2 Precip &gt; 50mm  VALID 20230307/0000V336</text>
<use href="#cbar"/>
</svg>
<div class="t w" style="left:46px;top:1478px;font-size:39.05px;line-height:45.1px;transform:scaleY(1.04);">For week-1 (left panel), the GEFS forecasts indicate a moderate to high chance (over 70%) for rainfall to exceed 50 mm over<br>northern Zimbabwe, central Malawi, western/southern Tanzania, southwestern Rwanda, Burundi, east-<br>central/southeastern/southern DRC, northwestern/southern Mozambique, central/eastern Angola, most of Zambia, and pockets of<br>northern/southeastern Madagascar (due to Tropical Cyclone Freddy). For week-2 (right panel), there is a moderate to high chance<br>for rainfall to exceed 50 mm across east-central/southeastern DRC, Burundi, most of Zambia, most of Malawi, southwestern<br>Tanzania, northern/west-central Mozambique, northern Zimbabwe, and central/northern Madagascar.</div>
</body></html>
